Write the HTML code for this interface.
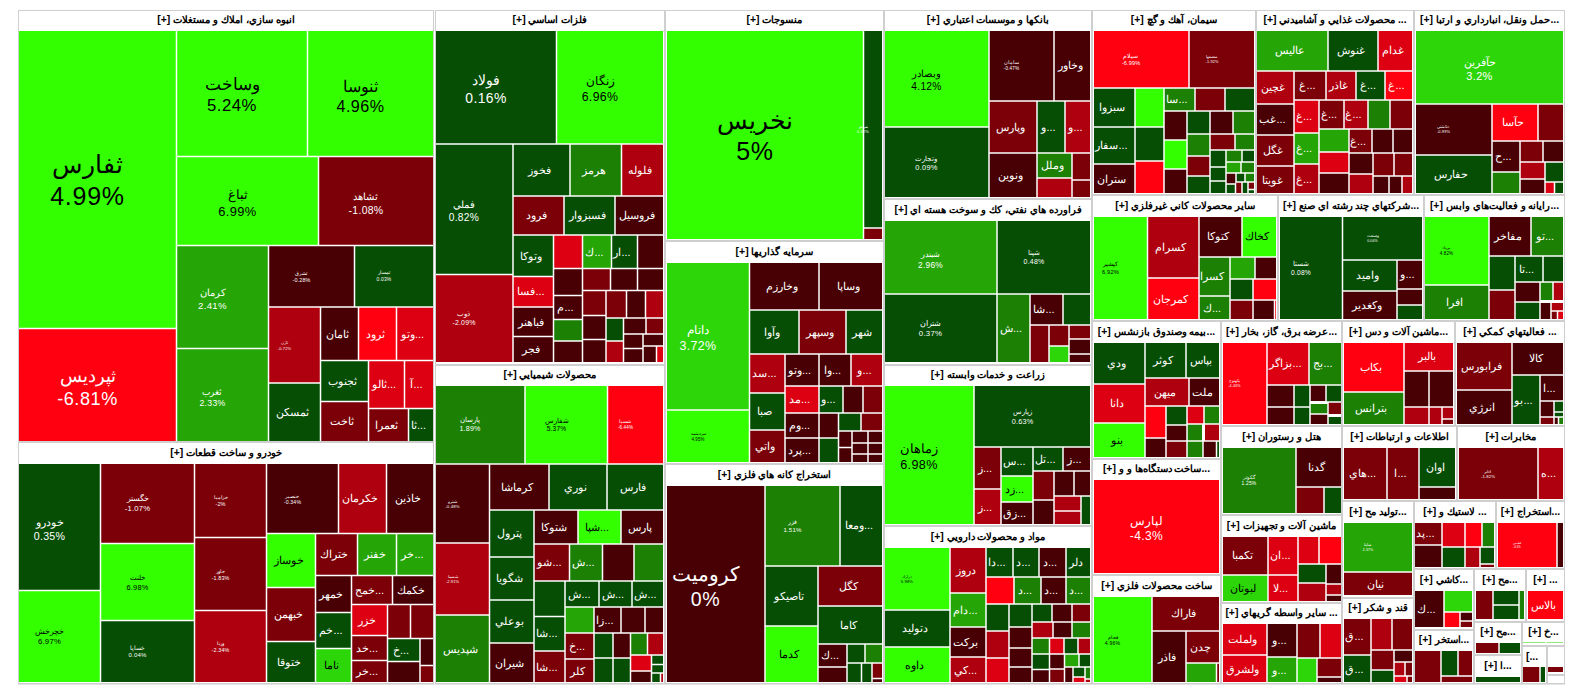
<!DOCTYPE html>
<html><head><meta charset="utf-8"><title>map</title>
<style>
html,body{margin:0;padding:0;background:#fff;}
body{width:1584px;height:698px;position:relative;overflow:hidden;font-family:"Liberation Sans",sans-serif;}
.s{position:absolute;box-sizing:border-box;border:1px solid #cfcfcf;background:#fff;}
.h{position:absolute;overflow:hidden;white-space:nowrap;text-align:center;font-weight:bold;font-size:10.4px;color:#000;direction:rtl;}
.c{position:absolute;overflow:hidden;display:flex;align-items:center;justify-content:center;text-align:center;color:#fff;white-space:nowrap;direction:ltr;}
.c.k{color:#000;}
.c.v{overflow:visible;}
.c span{display:block;}
</style></head><body>

<div class="s" style="left:18px;top:10px;width:416px;height:432px"></div>
<div class="h" style="left:19px;top:11px;width:414px;height:20px;line-height:18px">انبوه سازي، املاك و مستغلات [+]</div>
<div class="s" style="left:18px;top:442px;width:416px;height:242px"></div>
<div class="h" style="left:19px;top:443px;width:414px;height:21px;line-height:19px">خودرو و ساخت قطعات [+]</div>
<div class="s" style="left:435px;top:10px;width:230px;height:355px"></div>
<div class="h" style="left:436px;top:11px;width:228px;height:20px;line-height:18px">فلزات اساسي [+]</div>
<div class="s" style="left:435px;top:365px;width:230px;height:319px"></div>
<div class="h" style="left:436px;top:366px;width:228px;height:20px;line-height:18px">محصولات شيميايي [+]</div>
<div class="s" style="left:665px;top:10px;width:219px;height:231px"></div>
<div class="h" style="left:666px;top:11px;width:217px;height:20px;line-height:18px">منسوجات [+]</div>
<div class="s" style="left:665px;top:241px;width:219px;height:223px"></div>
<div class="h" style="left:666px;top:242px;width:217px;height:21px;line-height:19px">سرمايه گذاريها [+]</div>
<div class="s" style="left:665px;top:464px;width:219px;height:220px"></div>
<div class="h" style="left:666px;top:465px;width:217px;height:21px;line-height:19px">استخراج كانه هاي فلزي [+]</div>
<div class="s" style="left:884px;top:10px;width:208px;height:189px"></div>
<div class="h" style="left:885px;top:11px;width:206px;height:20px;line-height:18px">بانكها و موسسات اعتباري [+]</div>
<div class="s" style="left:884px;top:199px;width:208px;height:166px"></div>
<div class="h" style="left:885px;top:200px;width:206px;height:21px;line-height:19px">فراورده هاي نفتي، كك و سوخت هسته اي [+]</div>
<div class="s" style="left:884px;top:365px;width:208px;height:161px"></div>
<div class="h" style="left:885px;top:366px;width:206px;height:20px;line-height:18px">زراعت و خدمات وابسته [+]</div>
<div class="s" style="left:884px;top:526px;width:208px;height:158px"></div>
<div class="h" style="left:885px;top:527px;width:206px;height:21px;line-height:19px">مواد و محصولات دارويي [+]</div>
<div class="s" style="left:1092px;top:10px;width:164px;height:185px"></div>
<div class="h" style="left:1093px;top:11px;width:162px;height:20px;line-height:18px">سيمان، آهك و گچ [+]</div>
<div class="s" style="left:1256px;top:10px;width:158px;height:185px"></div>
<div class="h" style="left:1257px;top:11px;width:156px;height:20px;line-height:18px">... محصولات غذايي و آشاميدني [+]</div>
<div class="s" style="left:1414px;top:10px;width:151px;height:185px"></div>
<div class="h" style="left:1415px;top:11px;width:149px;height:20px;line-height:18px">...حمل ونقل، انبارداري و ارتبا [+]</div>
<div class="s" style="left:1092px;top:195px;width:186px;height:126px"></div>
<div class="h" style="left:1093px;top:196px;width:184px;height:21px;line-height:19px">ساير محصولات كاني غيرفلزي [+]</div>
<div class="s" style="left:1278px;top:195px;width:146px;height:126px"></div>
<div class="h" style="left:1279px;top:196px;width:144px;height:21px;line-height:19px">...شركتهاي چند رشته اي صنع [+]</div>
<div class="s" style="left:1424px;top:195px;width:141px;height:126px"></div>
<div class="h" style="left:1425px;top:196px;width:139px;height:21px;line-height:19px">...رايانه و فعاليت‌هاي وابس [+]</div>
<div class="s" style="left:1092px;top:321px;width:129px;height:138px"></div>
<div class="h" style="left:1093px;top:322px;width:127px;height:21px;line-height:19px">...بيمه وصندوق بازنشس [+]</div>
<div class="s" style="left:1221px;top:321px;width:121px;height:105px"></div>
<div class="h" style="left:1222px;top:322px;width:119px;height:21px;line-height:19px">...عرضه برق، گاز، بخار [+]</div>
<div class="s" style="left:1342px;top:321px;width:113px;height:105px"></div>
<div class="h" style="left:1343px;top:322px;width:111px;height:21px;line-height:19px">...ماشين آلات و دس [+]</div>
<div class="s" style="left:1455px;top:321px;width:110px;height:105px"></div>
<div class="h" style="left:1456px;top:322px;width:108px;height:21px;line-height:19px">... فعاليتهاي كمكي [+]</div>
<div class="s" style="left:1221px;top:426px;width:121px;height:89px"></div>
<div class="h" style="left:1222px;top:427px;width:119px;height:21px;line-height:19px">هتل و رستوران [+]</div>
<div class="s" style="left:1342px;top:426px;width:115px;height:75px"></div>
<div class="h" style="left:1343px;top:427px;width:113px;height:21px;line-height:19px">اطلاعات و ارتباطات [+]</div>
<div class="s" style="left:1457px;top:426px;width:108px;height:75px"></div>
<div class="h" style="left:1458px;top:427px;width:106px;height:21px;line-height:19px">مخابرات [+]</div>
<div class="s" style="left:1092px;top:459px;width:129px;height:116px"></div>
<div class="h" style="left:1093px;top:460px;width:127px;height:20px;line-height:18px">...ساخت دستگاه‌ها و و [+]</div>
<div class="s" style="left:1092px;top:575px;width:129px;height:109px"></div>
<div class="h" style="left:1093px;top:576px;width:127px;height:21px;line-height:19px">ساخت محصولات فلزي [+]</div>
<div class="s" style="left:1221px;top:515px;width:121px;height:88px"></div>
<div class="h" style="left:1222px;top:516px;width:119px;height:21px;line-height:19px">ماشين آلات و تجهيزات [+]</div>
<div class="s" style="left:1221px;top:603px;width:121px;height:81px"></div>
<div class="h" style="left:1222px;top:604px;width:119px;height:20px;line-height:18px">... ساير واسطه گريهاي [+]</div>
<div class="s" style="left:1342px;top:501px;width:72px;height:97px"></div>
<div class="h" style="left:1343px;top:502px;width:70px;height:21px;line-height:19px">...توليد مح [+]</div>
<div class="s" style="left:1414px;top:501px;width:82px;height:68px"></div>
<div class="h" style="left:1415px;top:502px;width:80px;height:21px;line-height:19px">... لاستيك و [+]</div>
<div class="s" style="left:1496px;top:501px;width:69px;height:68px"></div>
<div class="h" style="left:1497px;top:502px;width:67px;height:21px;line-height:19px">...استخراج [+]</div>
<div class="s" style="left:1342px;top:598px;width:72px;height:86px"></div>
<div class="h" style="left:1343px;top:599px;width:70px;height:20px;line-height:18px">قند و شكر [+]</div>
<div class="s" style="left:1414px;top:569px;width:60px;height:61px"></div>
<div class="h" style="left:1415px;top:570px;width:58px;height:21px;line-height:19px">...كاشي [+]</div>
<div class="s" style="left:1414px;top:630px;width:60px;height:54px"></div>
<div class="h" style="left:1415px;top:631px;width:58px;height:20px;line-height:18px">...استخر [+]</div>
<div class="s" style="left:1474px;top:569px;width:52px;height:53px"></div>
<div class="h" style="left:1475px;top:570px;width:50px;height:21px;line-height:19px">...مح [+]</div>
<div class="s" style="left:1526px;top:569px;width:39px;height:53px"></div>
<div class="h" style="left:1527px;top:570px;width:37px;height:21px;line-height:19px">... [+]</div>
<div class="s" style="left:1474px;top:622px;width:48px;height:33px"></div>
<div class="h" style="left:1475px;top:623px;width:46px;height:20px;line-height:18px">...مح [+]</div>
<div class="s" style="left:1522px;top:622px;width:43px;height:24px"></div>
<div class="h" style="left:1523px;top:623px;width:41px;height:19px;line-height:17px">...خ [+]</div>
<div class="s" style="left:1474px;top:655px;width:48px;height:29px"></div>
<div class="h" style="left:1475px;top:656px;width:46px;height:21px;line-height:19px">...ا [+]</div>
<div class="s" style="left:1522px;top:646px;width:25px;height:38px"></div>
<div class="h" style="left:1523px;top:647px;width:23px;height:20px;line-height:20px;direction:ltr;text-align:left;padding-left:3px;box-sizing:border-box">[...</div>
<div class="s" style="left:1547px;top:646px;width:18px;height:29px"></div>
<div class="s" style="left:1547px;top:675px;width:18px;height:9px"></div>
<svg width="1584" height="698" viewBox="0 0 1584 698" style="position:absolute;left:0;top:0"><rect x="19" y="31" width="156.75" height="296.75" fill="#33FF00"/>
<rect x="19" y="329.25" width="156.75" height="111.75" fill="#FF0010"/>
<rect x="177.25" y="31" width="129.5" height="124.75" fill="#33FF00"/>
<rect x="308.25" y="31" width="124.75" height="124.75" fill="#33FF00"/>
<rect x="177.25" y="157.25" width="140.5" height="87.5" fill="#33FF00"/>
<rect x="319.25" y="157.25" width="113.75" height="87.5" fill="#7C0008"/>
<rect x="177.25" y="246.25" width="90.5" height="101.5" fill="#26A606"/>
<rect x="177.25" y="349.25" width="90.5" height="91.75" fill="#26A606"/>
<rect x="269.25" y="246.25" width="84.5" height="60" fill="#480004"/>
<rect x="355.25" y="246.25" width="77.75" height="60" fill="#064E04"/>
<rect x="269.25" y="307.75" width="50.5" height="74.5" fill="#AE000E"/>
<rect x="269.25" y="383.75" width="50.5" height="57.25" fill="#064E04"/>
<rect x="321.25" y="307.75" width="36.5" height="52" fill="#480004"/>
<rect x="359.25" y="307.75" width="36.5" height="52" fill="#FF0010"/>
<rect x="397.25" y="307.75" width="35.75" height="52" fill="#DC0012"/>
<rect x="321.25" y="361.25" width="46.5" height="39.5" fill="#064E04"/>
<rect x="369.25" y="361.25" width="34.5" height="46.5" fill="#DC0012"/>
<rect x="405.25" y="361.25" width="27.75" height="46.5" fill="#DC0012"/>
<rect x="321.25" y="402.25" width="46.5" height="38.75" fill="#7C0008"/>
<rect x="369.25" y="409.25" width="38.5" height="31.75" fill="#7C0008"/>
<rect x="409.25" y="409.25" width="23.75" height="31.75" fill="#064E04"/>
<rect x="19" y="464" width="80.75" height="125.75" fill="#064E04"/>
<rect x="19" y="591.25" width="80.75" height="90.75" fill="#33FF00"/>
<rect x="101.25" y="464" width="92.5" height="78.75" fill="#7C0008"/>
<rect x="101.25" y="544.25" width="92.5" height="75.5" fill="#33FF00"/>
<rect x="101.25" y="621.25" width="92.5" height="60.75" fill="#064E04"/>
<rect x="195.25" y="464" width="70.5" height="72.75" fill="#7C0008"/>
<rect x="195.25" y="538.25" width="70.5" height="71.5" fill="#7C0008"/>
<rect x="195.25" y="611.25" width="70.5" height="70.75" fill="#AE000E"/>
<rect x="267.25" y="464" width="70.5" height="68.75" fill="#480004"/>
<rect x="339.25" y="464" width="46.5" height="68.75" fill="#AE000E"/>
<rect x="387.25" y="464" width="45.75" height="68.75" fill="#480004"/>
<rect x="267.25" y="534.25" width="47.5" height="52.5" fill="#33FF00"/>
<rect x="267.25" y="588.25" width="47.5" height="52.5" fill="#7C0008"/>
<rect x="267.25" y="642.25" width="47.5" height="39.75" fill="#064E04"/>
<rect x="316.25" y="534.25" width="40.5" height="40.5" fill="#7C0008"/>
<rect x="358.25" y="534.25" width="37.5" height="40.5" fill="#26A606"/>
<rect x="397.25" y="534.25" width="35.75" height="40.5" fill="#26A606"/>
<rect x="316.25" y="576.25" width="34.5" height="35.5" fill="#480004"/>
<rect x="316.25" y="613.25" width="34.5" height="34.5" fill="#064E04"/>
<rect x="316.25" y="649.25" width="34.5" height="32.75" fill="#2DD608"/>
<rect x="352.25" y="576.25" width="39.5" height="27.5" fill="#7C0008"/>
<rect x="393.25" y="576.25" width="39.75" height="27.5" fill="#480004"/>
<rect x="352.25" y="605.25" width="34.5" height="29.5" fill="#DC0012"/>
<rect x="388.25" y="605.25" width="21.5" height="32.5" fill="#7C0008"/>
<rect x="411.25" y="605.25" width="21.75" height="32.5" fill="#7C0008"/>
<rect x="352.25" y="636.25" width="34.5" height="23.5" fill="#7C0008"/>
<rect x="352.25" y="661.25" width="34.5" height="20.75" fill="#7C0008"/>
<rect x="388.25" y="639.25" width="31" height="21.5" fill="#064E04"/>
<rect x="388.25" y="662.25" width="31" height="19.75" fill="#480004"/>
<rect x="420.75" y="639.25" width="12.25" height="25.5" fill="#480004"/>
<rect x="420.75" y="666.25" width="12.25" height="15.75" fill="#7C0008"/>
<rect x="436" y="31" width="119.75" height="112.25" fill="#064E04"/>
<rect x="557.25" y="31" width="105.75" height="112.25" fill="#33FF00"/>
<rect x="436" y="144.75" width="76.25" height="129" fill="#064E04"/>
<rect x="436" y="275.25" width="76.25" height="86.75" fill="#AE000E"/>
<rect x="513.75" y="144.75" width="55.5" height="50.5" fill="#064E04"/>
<rect x="570.75" y="144.75" width="50" height="50.5" fill="#1C8004"/>
<rect x="622.25" y="144.75" width="40.75" height="50.5" fill="#AE000E"/>
<rect x="513.75" y="196.75" width="49.5" height="37.5" fill="#7C0008"/>
<rect x="564.75" y="196.75" width="49.5" height="37.5" fill="#064E04"/>
<rect x="615.75" y="196.75" width="47.25" height="37.5" fill="#480004"/>
<rect x="513.75" y="235.75" width="39" height="40" fill="#064E04"/>
<rect x="513.75" y="277.25" width="39" height="29" fill="#DC0012"/>
<rect x="513.75" y="307.75" width="39" height="28" fill="#480004"/>
<rect x="513.75" y="337.25" width="39" height="24.75" fill="#480004"/>
<rect x="554.25" y="235.75" width="27.5" height="32" fill="#DC0012"/>
<rect x="554.25" y="269.25" width="27.5" height="25.5" fill="#480004"/>
<rect x="554.25" y="296.25" width="27.5" height="22.5" fill="#480004"/>
<rect x="554.25" y="320.25" width="27.5" height="20" fill="#1C8004"/>
<rect x="554.25" y="341.75" width="27.5" height="20.25" fill="#480004"/>
<rect x="583.25" y="235.75" width="27.5" height="32" fill="#26A606"/>
<rect x="612.25" y="235.75" width="24.5" height="32" fill="#064E04"/>
<rect x="638.25" y="235.75" width="24.75" height="32" fill="#480004"/>
<rect x="583.25" y="269.25" width="26.5" height="20.5" fill="#7C0008"/>
<rect x="611.25" y="269.25" width="25.5" height="20.5" fill="#480004"/>
<rect x="638.25" y="269.25" width="24.75" height="20.5" fill="#480004"/>
<rect x="583.25" y="291.25" width="22" height="23.5" fill="#7C0008"/>
<rect x="606.75" y="291.25" width="19" height="26" fill="#7C0008"/>
<rect x="627.25" y="291.25" width="17.5" height="26" fill="#480004"/>
<rect x="646.25" y="291.25" width="16.75" height="26" fill="#AE000E"/>
<rect x="583.25" y="316.25" width="22" height="22.5" fill="#480004"/>
<rect x="583.25" y="340.25" width="22" height="21.75" fill="#480004"/>
<rect x="606.75" y="318.75" width="16" height="21.5" fill="#064E04"/>
<rect x="606.75" y="341.75" width="16" height="20.25" fill="#AE000E"/>
<rect x="624.25" y="318.75" width="21" height="14.5" fill="#480004"/>
<rect x="646.75" y="318.75" width="16.25" height="14.5" fill="#7C0008"/>
<rect x="624.25" y="334.75" width="18" height="13" fill="#480004"/>
<rect x="643.75" y="334.75" width="19.25" height="10.5" fill="#480004"/>
<rect x="624.25" y="349.25" width="18" height="12.75" fill="#480004"/>
<rect x="643.75" y="346.75" width="12" height="15.25" fill="#480004"/>
<rect x="657.25" y="346.75" width="5.75" height="15.25" fill="#DC0012"/>
<rect x="436" y="386" width="88.25" height="77.25" fill="#1C8004"/>
<rect x="525.75" y="386" width="81" height="77.25" fill="#33FF00"/>
<rect x="608.25" y="386" width="54.75" height="77.25" fill="#FF0010"/>
<rect x="436" y="464.75" width="52.75" height="77.5" fill="#480004"/>
<rect x="436" y="543.75" width="52.75" height="70.5" fill="#AE000E"/>
<rect x="436" y="615.75" width="52.75" height="66.25" fill="#1C8004"/>
<rect x="490.25" y="464.75" width="58" height="44.5" fill="#480004"/>
<rect x="549.75" y="464.75" width="56.5" height="44.5" fill="#064E04"/>
<rect x="607.75" y="464.75" width="55.25" height="44.5" fill="#064E04"/>
<rect x="490.25" y="510.75" width="43" height="45.5" fill="#064E04"/>
<rect x="490.25" y="557.75" width="43" height="41.5" fill="#064E04"/>
<rect x="490.25" y="600.75" width="43" height="41.5" fill="#064E04"/>
<rect x="490.25" y="643.75" width="43" height="38.25" fill="#480004"/>
<rect x="534.75" y="510.75" width="42.5" height="32.5" fill="#480004"/>
<rect x="578.75" y="510.75" width="41.5" height="32.5" fill="#33FF00"/>
<rect x="621.75" y="510.75" width="41.25" height="32.5" fill="#480004"/>
<rect x="534.75" y="544.75" width="34" height="35.5" fill="#7C0008"/>
<rect x="570.25" y="544.75" width="31.5" height="35.5" fill="#1C8004"/>
<rect x="603.25" y="544.75" width="30" height="35.5" fill="#480004"/>
<rect x="634.75" y="544.75" width="28.25" height="35.5" fill="#1C8004"/>
<rect x="534.75" y="581.75" width="29.5" height="34" fill="#064E04"/>
<rect x="565.75" y="581.75" width="32.5" height="24.5" fill="#064E04"/>
<rect x="599.75" y="581.75" width="31.5" height="24.5" fill="#064E04"/>
<rect x="632.75" y="581.75" width="30.25" height="24.5" fill="#064E04"/>
<rect x="534.75" y="617.25" width="29.5" height="33" fill="#064E04"/>
<rect x="534.75" y="651.75" width="29.5" height="30.25" fill="#7C0008"/>
<rect x="565.75" y="607.75" width="27.5" height="24.5" fill="#26A606"/>
<rect x="594.75" y="607.75" width="25.5" height="24.5" fill="#480004"/>
<rect x="621.75" y="607.75" width="22.5" height="24.5" fill="#480004"/>
<rect x="645.75" y="607.75" width="17.25" height="24.5" fill="#480004"/>
<rect x="565.75" y="633.75" width="27.5" height="24.5" fill="#7C0008"/>
<rect x="565.75" y="659.75" width="27.5" height="22.25" fill="#7C0008"/>
<rect x="594.75" y="633.75" width="17.5" height="23.5" fill="#064E04"/>
<rect x="613.75" y="633.75" width="16" height="23.5" fill="#480004"/>
<rect x="631.25" y="633.75" width="15.5" height="20.5" fill="#1C8004"/>
<rect x="648.25" y="633.75" width="14.75" height="20.5" fill="#AE000E"/>
<rect x="594.75" y="658.75" width="17.5" height="23.25" fill="#064E04"/>
<rect x="613.75" y="658.75" width="16" height="23.25" fill="#064E04"/>
<rect x="631.25" y="655.75" width="19.5" height="14.5" fill="#DC0012"/>
<rect x="631.25" y="671.75" width="19.5" height="10.25" fill="#480004"/>
<rect x="652.25" y="655.75" width="10.75" height="8" fill="#064E04"/>
<rect x="652.25" y="665.25" width="10.75" height="7" fill="#064E04"/>
<rect x="652.25" y="673.75" width="7.5" height="8.25" fill="#064E04"/>
<rect x="661.25" y="673.75" width="1.75" height="8.25" fill="#AE000E"/>
<rect x="667" y="31" width="195.75" height="208" fill="#33FF00"/>
<rect x="864.25" y="31" width="17.75" height="196.25" fill="#064E04"/>
<rect x="864.25" y="228.75" width="17.75" height="10.25" fill="#7C0008"/>
<rect x="667" y="263" width="81.75" height="146.25" fill="#2DD608"/>
<rect x="667" y="410.75" width="81.75" height="51.25" fill="#33FF00"/>
<rect x="750.25" y="263" width="68" height="46.25" fill="#480004"/>
<rect x="819.75" y="263" width="62.25" height="46.25" fill="#480004"/>
<rect x="750.25" y="310.75" width="48" height="42.5" fill="#064E04"/>
<rect x="799.75" y="310.75" width="45.5" height="42.5" fill="#7C0008"/>
<rect x="846.75" y="310.75" width="35.25" height="42.5" fill="#064E04"/>
<rect x="750.25" y="354.75" width="34" height="37.5" fill="#AE000E"/>
<rect x="750.25" y="393.75" width="34" height="35.5" fill="#064E04"/>
<rect x="750.25" y="430.75" width="34" height="31.25" fill="#7C0008"/>
<rect x="785.75" y="354.75" width="32.5" height="30.5" fill="#480004"/>
<rect x="819.75" y="354.75" width="30.5" height="30.5" fill="#480004"/>
<rect x="851.75" y="354.75" width="30.25" height="30.5" fill="#AE000E"/>
<rect x="785.75" y="386.75" width="32.5" height="25.5" fill="#DC0012"/>
<rect x="819.75" y="386.75" width="22.5" height="25.5" fill="#064E04"/>
<rect x="843.75" y="386.75" width="18.5" height="25.5" fill="#480004"/>
<rect x="863.75" y="386.75" width="18.25" height="25.5" fill="#7C0008"/>
<rect x="785.75" y="413.75" width="32.5" height="23.5" fill="#480004"/>
<rect x="785.75" y="438.75" width="32.5" height="23.25" fill="#480004"/>
<rect x="819.75" y="413.75" width="18" height="23.5" fill="#480004"/>
<rect x="819.75" y="438.75" width="18" height="23.25" fill="#064E04"/>
<rect x="839.25" y="413.75" width="21" height="16.5" fill="#064E04"/>
<rect x="861.75" y="413.75" width="20.25" height="16.5" fill="#7C0008"/>
<rect x="839.25" y="431.75" width="12" height="15" fill="#480004"/>
<rect x="839.25" y="448.25" width="12" height="13.75" fill="#480004"/>
<rect x="852.75" y="431.75" width="14.5" height="10.5" fill="#480004"/>
<rect x="868.75" y="431.75" width="13.25" height="10.5" fill="#480004"/>
<rect x="852.75" y="443.75" width="14.5" height="9.5" fill="#480004"/>
<rect x="868.75" y="443.75" width="13.25" height="9.5" fill="#480004"/>
<rect x="852.75" y="454.75" width="14.5" height="7.25" fill="#480004"/>
<rect x="868.75" y="454.75" width="13.25" height="7.25" fill="#480004"/>
<rect x="667" y="486" width="97.25" height="196" fill="#480004"/>
<rect x="765.75" y="486" width="73.5" height="79.25" fill="#1C8004"/>
<rect x="840.75" y="486" width="41.25" height="79.25" fill="#064E04"/>
<rect x="765.75" y="566.75" width="51.5" height="58.5" fill="#064E04"/>
<rect x="765.75" y="626.75" width="51.5" height="55.25" fill="#33FF00"/>
<rect x="818.75" y="566.75" width="63.25" height="38.5" fill="#7C0008"/>
<rect x="818.75" y="606.75" width="63.25" height="36.5" fill="#064E04"/>
<rect x="818.75" y="644.75" width="27.5" height="21.5" fill="#480004"/>
<rect x="818.75" y="667.75" width="27.5" height="14.25" fill="#480004"/>
<rect x="847.75" y="644.75" width="16.5" height="17.5" fill="#064E04"/>
<rect x="865.75" y="644.75" width="16.25" height="17.5" fill="#1C8004"/>
<rect x="847.75" y="663.75" width="13" height="18.25" fill="#064E04"/>
<rect x="862.25" y="663.75" width="9" height="18.25" fill="#064E04"/>
<rect x="872.75" y="663.75" width="9.25" height="14" fill="#7C0008"/>
<rect x="872.75" y="679.25" width="9.25" height="2.75" fill="#480004"/>
<rect x="885" y="31" width="103.25" height="95.25" fill="#33FF00"/>
<rect x="885" y="127.75" width="103.25" height="69.25" fill="#064E04"/>
<rect x="989.75" y="31" width="63.5" height="69.25" fill="#480004"/>
<rect x="1054.75" y="31" width="35.25" height="69.25" fill="#480004"/>
<rect x="989.75" y="101.75" width="46.5" height="50.5" fill="#7C0008"/>
<rect x="989.75" y="153.75" width="46.5" height="43.25" fill="#480004"/>
<rect x="1037.75" y="101.75" width="26.5" height="50.5" fill="#064E04"/>
<rect x="1065.75" y="101.75" width="24.25" height="50.5" fill="#AE000E"/>
<rect x="1037.75" y="153.75" width="33.5" height="23.5" fill="#1C8004"/>
<rect x="1037.75" y="178.75" width="33.5" height="18.25" fill="#AE000E"/>
<rect x="1072.75" y="153.75" width="17.25" height="25.5" fill="#7C0008"/>
<rect x="1072.75" y="180.75" width="17.25" height="16.25" fill="#7C0008"/>
<rect x="885" y="221" width="111.25" height="72.25" fill="#26A606"/>
<rect x="997.75" y="221" width="92.25" height="72.25" fill="#064E04"/>
<rect x="885" y="294.75" width="111.25" height="67.25" fill="#064E04"/>
<rect x="997.75" y="294.75" width="31.5" height="67.25" fill="#1C8004"/>
<rect x="1030.75" y="294.75" width="31.5" height="29.5" fill="#480004"/>
<rect x="1063.75" y="294.75" width="26.25" height="29.5" fill="#064E04"/>
<rect x="1030.75" y="325.75" width="17.5" height="36.25" fill="#7C0008"/>
<rect x="1049.75" y="325.75" width="18.5" height="19.5" fill="#7C0008"/>
<rect x="1049.75" y="346.75" width="18.5" height="15.25" fill="#2DD608"/>
<rect x="1069.75" y="325.75" width="20.25" height="12.5" fill="#7C0008"/>
<rect x="1069.75" y="339.75" width="20.25" height="13.5" fill="#480004"/>
<rect x="1069.75" y="354.75" width="20.25" height="7.25" fill="#480004"/>
<rect x="885" y="386" width="88.25" height="138" fill="#33FF00"/>
<rect x="974.75" y="386" width="115.25" height="60.25" fill="#064E04"/>
<rect x="974.75" y="447.75" width="25.5" height="40.5" fill="#7C0008"/>
<rect x="974.75" y="489.75" width="25.5" height="34.25" fill="#AE000E"/>
<rect x="1001.75" y="447.75" width="30.5" height="27.5" fill="#064E04"/>
<rect x="1001.75" y="476.75" width="30.5" height="24.5" fill="#33FF00"/>
<rect x="1001.75" y="502.75" width="30.5" height="21.25" fill="#480004"/>
<rect x="1033.75" y="447.75" width="28.5" height="22.5" fill="#064E04"/>
<rect x="1063.75" y="447.75" width="26.25" height="22.5" fill="#480004"/>
<rect x="1033.75" y="471.75" width="19.5" height="27.5" fill="#7C0008"/>
<rect x="1054.75" y="471.75" width="18.5" height="23.5" fill="#480004"/>
<rect x="1074.75" y="471.75" width="15.25" height="23.5" fill="#480004"/>
<rect x="1033.75" y="500.75" width="19.5" height="23.25" fill="#480004"/>
<rect x="1054.75" y="496.75" width="25.5" height="13.5" fill="#AE000E"/>
<rect x="1054.75" y="511.75" width="25.5" height="12.25" fill="#AE000E"/>
<rect x="1081.75" y="496.75" width="8.25" height="27.25" fill="#064E04"/>
<rect x="885" y="548" width="64.25" height="61.25" fill="#33FF00"/>
<rect x="885" y="610.75" width="64.25" height="35.5" fill="#064E04"/>
<rect x="885" y="647.75" width="64.25" height="34.25" fill="#33FF00"/>
<rect x="950.75" y="548" width="34.5" height="44.25" fill="#AE000E"/>
<rect x="950.75" y="593.75" width="34.5" height="32.5" fill="#26A606"/>
<rect x="950.75" y="627.75" width="34.5" height="28.5" fill="#480004"/>
<rect x="950.75" y="657.75" width="34.5" height="24.25" fill="#AE000E"/>
<rect x="986.75" y="548" width="25.5" height="28.25" fill="#064E04"/>
<rect x="1013.75" y="548" width="24.5" height="28.25" fill="#064E04"/>
<rect x="1039.75" y="548" width="25.5" height="28.25" fill="#480004"/>
<rect x="1066.75" y="548" width="23.25" height="28.25" fill="#064E04"/>
<rect x="986.75" y="577.75" width="26.5" height="25.5" fill="#FF0010"/>
<rect x="1014.75" y="577.75" width="25.5" height="25.5" fill="#1C8004"/>
<rect x="1041.75" y="577.75" width="23.5" height="25.5" fill="#480004"/>
<rect x="1066.75" y="577.75" width="23.25" height="25.5" fill="#1C8004"/>
<rect x="986.75" y="604.75" width="21.5" height="25.5" fill="#064E04"/>
<rect x="1009.75" y="604.75" width="21.5" height="21.5" fill="#064E04"/>
<rect x="1032.75" y="604.75" width="18.5" height="16.5" fill="#064E04"/>
<rect x="1052.75" y="604.75" width="18.5" height="16.5" fill="#480004"/>
<rect x="1072.75" y="604.75" width="17.25" height="16.5" fill="#7C0008"/>
<rect x="986.75" y="631.75" width="21.5" height="25.5" fill="#AE000E"/>
<rect x="986.75" y="658.75" width="21.5" height="23.25" fill="#DC0012"/>
<rect x="1009.75" y="627.75" width="21.5" height="19.5" fill="#480004"/>
<rect x="1009.75" y="648.75" width="21.5" height="17.5" fill="#480004"/>
<rect x="1009.75" y="667.75" width="21.5" height="14.25" fill="#480004"/>
<rect x="1032.75" y="622.75" width="19.5" height="14.5" fill="#AE000E"/>
<rect x="1053.75" y="622.75" width="17.5" height="14.5" fill="#480004"/>
<rect x="1072.75" y="622.75" width="17.25" height="14.5" fill="#1C8004"/>
<rect x="1032.75" y="638.75" width="16" height="14.5" fill="#1C8004"/>
<rect x="1050.25" y="638.75" width="13" height="14.5" fill="#DC0012"/>
<rect x="1064.75" y="638.75" width="12.5" height="14.5" fill="#064E04"/>
<rect x="1078.75" y="638.75" width="11.25" height="14.5" fill="#AE000E"/>
<rect x="1032.75" y="654.75" width="16" height="14" fill="#064E04"/>
<rect x="1050.25" y="654.75" width="13.5" height="13.5" fill="#480004"/>
<rect x="1065.25" y="654.75" width="13" height="11.5" fill="#26A606"/>
<rect x="1079.75" y="654.75" width="10.25" height="11.5" fill="#064E04"/>
<rect x="1032.75" y="670.25" width="16" height="11.75" fill="#480004"/>
<rect x="1050.25" y="669.75" width="13.5" height="12.25" fill="#7C0008"/>
<rect x="1065.25" y="667.75" width="7" height="14.25" fill="#480004"/>
<rect x="1073.75" y="667.75" width="10.5" height="8.5" fill="#064E04"/>
<rect x="1085.75" y="667.75" width="4.25" height="10.5" fill="#1C8004"/>
<rect x="1073.75" y="677.75" width="10.5" height="4.25" fill="#DC0012"/>
<rect x="1085.75" y="679.75" width="4.25" height="2.25" fill="#AE000E"/>
<rect x="1094" y="31" width="94.25" height="56.25" fill="#FF0010"/>
<rect x="1189.75" y="31" width="64.25" height="56.25" fill="#7C0008"/>
<rect x="1094" y="88.75" width="40.25" height="37.5" fill="#064E04"/>
<rect x="1094" y="127.75" width="40.25" height="35.5" fill="#064E04"/>
<rect x="1094" y="164.75" width="40.25" height="28.25" fill="#480004"/>
<rect x="1135.75" y="88.75" width="27.5" height="37.5" fill="#33FF00"/>
<rect x="1135.75" y="127.75" width="27.5" height="32.5" fill="#064E04"/>
<rect x="1135.75" y="161.75" width="27.5" height="31.25" fill="#FF0010"/>
<rect x="1164.75" y="88.75" width="29.5" height="21.5" fill="#1C8004"/>
<rect x="1195.75" y="88.75" width="28.5" height="21.5" fill="#7C0008"/>
<rect x="1225.75" y="88.75" width="28.25" height="21.5" fill="#064E04"/>
<rect x="1164.75" y="111.75" width="21.5" height="27.5" fill="#480004"/>
<rect x="1164.75" y="140.75" width="21.5" height="27.5" fill="#33FF00"/>
<rect x="1164.75" y="169.75" width="21.5" height="23.25" fill="#480004"/>
<rect x="1187.75" y="111.75" width="21.5" height="21.5" fill="#064E04"/>
<rect x="1210.75" y="111.75" width="21.5" height="21.5" fill="#480004"/>
<rect x="1233.75" y="111.75" width="20.25" height="21.5" fill="#1C8004"/>
<rect x="1187.75" y="134.75" width="21.5" height="20.5" fill="#1C8004"/>
<rect x="1187.75" y="156.75" width="21.5" height="18.5" fill="#7C0008"/>
<rect x="1187.75" y="176.75" width="21.5" height="16.25" fill="#064E04"/>
<rect x="1210.75" y="134.75" width="23.5" height="14.5" fill="#7C0008"/>
<rect x="1235.75" y="134.75" width="18.25" height="14.5" fill="#1C8004"/>
<rect x="1210.75" y="150.75" width="14.5" height="15.5" fill="#064E04"/>
<rect x="1210.75" y="167.75" width="14.5" height="12.5" fill="#064E04"/>
<rect x="1210.75" y="181.75" width="14.5" height="11.25" fill="#064E04"/>
<rect x="1226.75" y="150.75" width="14.5" height="10.5" fill="#1C8004"/>
<rect x="1242.75" y="150.75" width="11.25" height="10.5" fill="#064E04"/>
<rect x="1226.75" y="162.75" width="13.5" height="9.5" fill="#26A606"/>
<rect x="1241.75" y="162.75" width="12.25" height="9.5" fill="#1C8004"/>
<rect x="1226.75" y="173.75" width="8.5" height="9.5" fill="#480004"/>
<rect x="1236.75" y="173.75" width="7.5" height="7.5" fill="#064E04"/>
<rect x="1245.75" y="173.75" width="8.25" height="7.5" fill="#1C8004"/>
<rect x="1226.75" y="184.75" width="8" height="8.25" fill="#064E04"/>
<rect x="1236.25" y="182.75" width="5" height="10.25" fill="#7C0008"/>
<rect x="1242.75" y="182.75" width="4.5" height="10.25" fill="#064E04"/>
<rect x="1248.75" y="182.75" width="5.25" height="6" fill="#7C0008"/>
<rect x="1248.75" y="190.25" width="5.25" height="2.75" fill="#064E04"/>
<rect x="1257" y="31" width="70.25" height="39.25" fill="#26A606"/>
<rect x="1328.75" y="31" width="48.5" height="39.25" fill="#064E04"/>
<rect x="1378.75" y="31" width="33.25" height="39.25" fill="#DC0012"/>
<rect x="1257" y="71.75" width="36.25" height="31.5" fill="#AE000E"/>
<rect x="1257" y="104.75" width="36.25" height="29.5" fill="#480004"/>
<rect x="1257" y="135.75" width="36.25" height="29.5" fill="#7C0008"/>
<rect x="1257" y="166.75" width="36.25" height="26.25" fill="#7C0008"/>
<rect x="1294.75" y="71.75" width="30.5" height="27.5" fill="#7C0008"/>
<rect x="1326.75" y="71.75" width="28.5" height="27.5" fill="#AE000E"/>
<rect x="1356.75" y="71.75" width="27.5" height="27.5" fill="#064E04"/>
<rect x="1385.75" y="71.75" width="26.25" height="27.5" fill="#FF0010"/>
<rect x="1294.75" y="100.75" width="23.5" height="31.5" fill="#DC0012"/>
<rect x="1294.75" y="133.75" width="23.5" height="29.5" fill="#26A606"/>
<rect x="1294.75" y="164.75" width="23.5" height="28.25" fill="#AE000E"/>
<rect x="1319.75" y="100.75" width="23.5" height="27.5" fill="#7C0008"/>
<rect x="1344.75" y="100.75" width="22.5" height="27.5" fill="#AE000E"/>
<rect x="1368.75" y="100.75" width="20.5" height="27.5" fill="#1C8004"/>
<rect x="1390.75" y="100.75" width="21.25" height="27.5" fill="#7C0008"/>
<rect x="1319.75" y="129.75" width="28.5" height="21.5" fill="#26A606"/>
<rect x="1349.75" y="129.75" width="21.5" height="22.5" fill="#7C0008"/>
<rect x="1372.75" y="129.75" width="19.5" height="22.5" fill="#480004"/>
<rect x="1393.75" y="129.75" width="18.25" height="22.5" fill="#480004"/>
<rect x="1319.75" y="152.75" width="28.5" height="19.5" fill="#DC0012"/>
<rect x="1319.75" y="173.75" width="28.5" height="19.25" fill="#480004"/>
<rect x="1349.75" y="153.75" width="22.5" height="19.5" fill="#480004"/>
<rect x="1349.75" y="174.75" width="22.5" height="18.25" fill="#AE000E"/>
<rect x="1373.75" y="153.75" width="19.5" height="21.5" fill="#7C0008"/>
<rect x="1394.75" y="153.75" width="17.25" height="21.5" fill="#7C0008"/>
<rect x="1373.75" y="176.75" width="14.5" height="16.25" fill="#480004"/>
<rect x="1389.75" y="176.75" width="11.5" height="16.25" fill="#480004"/>
<rect x="1402.75" y="176.75" width="9.25" height="16.25" fill="#AE000E"/>
<rect x="1416" y="31" width="147" height="72.25" fill="#2DD608"/>
<rect x="1416" y="104.75" width="75.25" height="49.5" fill="#480004"/>
<rect x="1416" y="155.75" width="75.25" height="37.25" fill="#064E04"/>
<rect x="1492.75" y="104.75" width="44.5" height="35.5" fill="#FF0010"/>
<rect x="1538.75" y="104.75" width="24.25" height="35.5" fill="#7C0008"/>
<rect x="1492.75" y="141.75" width="26.5" height="29.5" fill="#480004"/>
<rect x="1492.75" y="172.75" width="26.5" height="20.25" fill="#1C8004"/>
<rect x="1520.75" y="141.75" width="21.5" height="19.5" fill="#7C0008"/>
<rect x="1543.75" y="141.75" width="19.25" height="19.5" fill="#480004"/>
<rect x="1520.75" y="162.75" width="23.5" height="15.5" fill="#AE000E"/>
<rect x="1545.75" y="162.75" width="17.25" height="18.5" fill="#064E04"/>
<rect x="1520.75" y="179.75" width="23.5" height="13.25" fill="#480004"/>
<rect x="1545.75" y="182.75" width="8" height="10.25" fill="#DC0012"/>
<rect x="1555.25" y="182.75" width="7.75" height="10.25" fill="#064E04"/>
<rect x="1094" y="217" width="52.75" height="102" fill="#33FF00"/>
<rect x="1148.25" y="217" width="50" height="60.25" fill="#AE000E"/>
<rect x="1148.25" y="278.75" width="50" height="40.25" fill="#FF0010"/>
<rect x="1199.75" y="217" width="41.5" height="39.25" fill="#480004"/>
<rect x="1242.75" y="217" width="33.25" height="39.25" fill="#33FF00"/>
<rect x="1199.75" y="257.75" width="29.5" height="37.5" fill="#1C8004"/>
<rect x="1199.75" y="296.75" width="29.5" height="22.25" fill="#1C8004"/>
<rect x="1230.75" y="257.75" width="23.5" height="20.5" fill="#26A606"/>
<rect x="1255.75" y="257.75" width="20.25" height="20.5" fill="#480004"/>
<rect x="1230.75" y="279.75" width="21.5" height="19.5" fill="#064E04"/>
<rect x="1253.75" y="279.75" width="22.25" height="19.5" fill="#FF0010"/>
<rect x="1230.75" y="300.75" width="21.5" height="18.25" fill="#7C0008"/>
<rect x="1253.75" y="300.75" width="20" height="18.25" fill="#480004"/>
<rect x="1275.25" y="300.75" width="0.75" height="18.25" fill="#FF0010"/>
<rect x="1280" y="217" width="61.75" height="102" fill="#064E04"/>
<rect x="1343.25" y="217" width="78.75" height="42.25" fill="#064E04"/>
<rect x="1343.25" y="260.75" width="53" height="29.5" fill="#064E04"/>
<rect x="1343.25" y="291.75" width="53" height="27.25" fill="#480004"/>
<rect x="1397.75" y="260.75" width="24.25" height="27.5" fill="#480004"/>
<rect x="1397.75" y="289.75" width="24.25" height="14.5" fill="#480004"/>
<rect x="1397.75" y="305.75" width="24.25" height="13.25" fill="#064E04"/>
<rect x="1425" y="217" width="63.25" height="67.25" fill="#33FF00"/>
<rect x="1425" y="285.75" width="63.25" height="33.25" fill="#1C8004"/>
<rect x="1489.75" y="217" width="40.5" height="38.25" fill="#480004"/>
<rect x="1531.75" y="217" width="31.25" height="38.25" fill="#1C8004"/>
<rect x="1489.75" y="256.75" width="24.5" height="32.5" fill="#064E04"/>
<rect x="1489.75" y="290.75" width="24.5" height="28.25" fill="#7C0008"/>
<rect x="1515.75" y="256.75" width="26.5" height="24.5" fill="#064E04"/>
<rect x="1543.75" y="256.75" width="19.25" height="24.5" fill="#064E04"/>
<rect x="1515.75" y="282.75" width="23.5" height="18.5" fill="#480004"/>
<rect x="1515.75" y="302.75" width="23.5" height="16.25" fill="#064E04"/>
<rect x="1540.75" y="282.75" width="11.5" height="17.25" fill="#1C8004"/>
<rect x="1553.75" y="282.75" width="9.25" height="17.25" fill="#AE000E"/>
<rect x="1540.75" y="303" width="9.5" height="16" fill="#480004"/>
<rect x="1551.75" y="303" width="11.25" height="7.25" fill="#AE000E"/>
<rect x="1551.75" y="311.75" width="5" height="7.25" fill="#7C0008"/>
<rect x="1558.25" y="311.75" width="4.75" height="7.25" fill="#DC0012"/>
<rect x="1094" y="343" width="50.25" height="40.25" fill="#064E04"/>
<rect x="1094" y="384.75" width="50.25" height="37.5" fill="#DC0012"/>
<rect x="1094" y="423.75" width="50.25" height="33.25" fill="#33FF00"/>
<rect x="1145.75" y="343" width="39.5" height="34.25" fill="#064E04"/>
<rect x="1186.75" y="343" width="32.25" height="34.25" fill="#064E04"/>
<rect x="1145.75" y="378.75" width="42.5" height="26.5" fill="#AE000E"/>
<rect x="1189.75" y="378.75" width="29.25" height="26.5" fill="#480004"/>
<rect x="1145.75" y="406.75" width="19.5" height="30.5" fill="#FF0010"/>
<rect x="1145.75" y="438.75" width="19.5" height="18.25" fill="#480004"/>
<rect x="1166.75" y="406.75" width="19.5" height="17.5" fill="#064E04"/>
<rect x="1166.75" y="425.75" width="19.5" height="14.5" fill="#480004"/>
<rect x="1166.75" y="441.75" width="19.5" height="15.25" fill="#7C0008"/>
<rect x="1187.75" y="406.75" width="15.5" height="16.5" fill="#DC0012"/>
<rect x="1204.75" y="406.75" width="14.25" height="16.5" fill="#1C8004"/>
<rect x="1187.75" y="424.75" width="14.25" height="15.5" fill="#1C8004"/>
<rect x="1205" y="424.75" width="14" height="15.5" fill="#AE000E"/>
<rect x="1187.75" y="441.75" width="14.5" height="15.25" fill="#1C8004"/>
<rect x="1203.75" y="441.75" width="12" height="15.25" fill="#480004"/>
<rect x="1217.25" y="441.75" width="1.75" height="15.25" fill="#064E04"/>
<rect x="1223" y="343" width="43.25" height="81" fill="#FF0010"/>
<rect x="1267.75" y="343" width="40.5" height="41.25" fill="#DC0012"/>
<rect x="1309.75" y="343" width="31.25" height="41.25" fill="#1C8004"/>
<rect x="1267.75" y="385.75" width="25.5" height="20.5" fill="#480004"/>
<rect x="1267.75" y="407.75" width="25.5" height="16.25" fill="#480004"/>
<rect x="1294.75" y="385.75" width="14.5" height="20.5" fill="#064E04"/>
<rect x="1294.75" y="407.75" width="14.5" height="16.25" fill="#064E04"/>
<rect x="1310.75" y="385.75" width="14.5" height="15.25" fill="#480004"/>
<rect x="1326.75" y="385.75" width="14.25" height="15.5" fill="#064E04"/>
<rect x="1310.75" y="404" width="16.5" height="9.25" fill="#1C8004"/>
<rect x="1328.75" y="402.75" width="12.25" height="11.25" fill="#7C0008"/>
<rect x="1310.75" y="414.75" width="16.5" height="9.25" fill="#480004"/>
<rect x="1328.75" y="417" width="12.25" height="7" fill="#064E04"/>
<rect x="1344" y="343" width="59.25" height="48.25" fill="#FF0010"/>
<rect x="1344" y="392.75" width="59.25" height="31.25" fill="#1C8004"/>
<rect x="1404.75" y="343" width="48.25" height="27.25" fill="#DC0012"/>
<rect x="1404.75" y="371.75" width="23.5" height="34.5" fill="#480004"/>
<rect x="1429.75" y="371.75" width="23.25" height="34.5" fill="#480004"/>
<rect x="1404.75" y="407.75" width="23.5" height="16.25" fill="#AE000E"/>
<rect x="1429.75" y="407.75" width="11.5" height="16.25" fill="#AE000E"/>
<rect x="1442.75" y="407.75" width="10.25" height="10.5" fill="#AE000E"/>
<rect x="1442.75" y="419.75" width="10.25" height="4.25" fill="#7C0008"/>
<rect x="1457" y="343" width="54.25" height="46.25" fill="#7C0008"/>
<rect x="1457" y="390.75" width="54.25" height="33.25" fill="#480004"/>
<rect x="1512.75" y="343" width="50.25" height="31.25" fill="#480004"/>
<rect x="1512.75" y="375.75" width="26.5" height="48.25" fill="#064E04"/>
<rect x="1540.75" y="375.75" width="22.25" height="24.5" fill="#480004"/>
<rect x="1540.75" y="401.75" width="12.5" height="14.5" fill="#480004"/>
<rect x="1554.75" y="401.75" width="8.25" height="9.5" fill="#064E04"/>
<rect x="1554.75" y="412.75" width="8.25" height="3.5" fill="#064E04"/>
<rect x="1540.75" y="417.75" width="12.5" height="6.25" fill="#7C0008"/>
<rect x="1554.75" y="417.75" width="3" height="6.25" fill="#480004"/>
<rect x="1559.25" y="417.75" width="3.75" height="6.25" fill="#1C8004"/>
<rect x="1223" y="448" width="72.25" height="65" fill="#1C8004"/>
<rect x="1296.75" y="448" width="44.25" height="38.25" fill="#480004"/>
<rect x="1296.75" y="487.75" width="26.5" height="25.25" fill="#7C0008"/>
<rect x="1324.75" y="487.75" width="16.25" height="25.25" fill="#064E04"/>
<rect x="1344" y="448" width="42.25" height="51" fill="#7C0008"/>
<rect x="1387.75" y="448" width="30.5" height="51" fill="#7C0008"/>
<rect x="1419.75" y="448" width="35.25" height="38.25" fill="#064E04"/>
<rect x="1419.75" y="487.75" width="35.25" height="11.25" fill="#480004"/>
<rect x="1459" y="448" width="78.25" height="51" fill="#7C0008"/>
<rect x="1538.75" y="448" width="24.25" height="51" fill="#AE000E"/>
<rect x="1094" y="480" width="125" height="93" fill="#FF0010"/>
<rect x="1094" y="597" width="57.25" height="85" fill="#33FF00"/>
<rect x="1152.75" y="597" width="66.25" height="33.25" fill="#7C0008"/>
<rect x="1152.75" y="631.75" width="32.5" height="50.25" fill="#480004"/>
<rect x="1186.75" y="631.75" width="32.25" height="30.5" fill="#7C0008"/>
<rect x="1186.75" y="663.75" width="29" height="18.25" fill="#26A606"/>
<rect x="1217.25" y="663.75" width="1.75" height="18.25" fill="#7C0008"/>
<rect x="1223" y="537" width="44.25" height="37.25" fill="#7C0008"/>
<rect x="1223" y="575.75" width="44.25" height="25.25" fill="#2DD608"/>
<rect x="1268.75" y="537" width="28.5" height="37.25" fill="#DC0012"/>
<rect x="1268.75" y="575.75" width="28.5" height="25.25" fill="#DC0012"/>
<rect x="1298.75" y="537" width="19.5" height="26.25" fill="#DC0012"/>
<rect x="1319.75" y="537" width="21.25" height="26.25" fill="#FF0010"/>
<rect x="1298.75" y="564.75" width="26.5" height="17.5" fill="#064E04"/>
<rect x="1326.75" y="564.75" width="14.25" height="18.5" fill="#480004"/>
<rect x="1298.75" y="583.75" width="26.5" height="17.25" fill="#AE000E"/>
<rect x="1326.75" y="584.75" width="14.25" height="9.5" fill="#AE000E"/>
<rect x="1326.75" y="595.75" width="14.25" height="5.25" fill="#480004"/>
<rect x="1223" y="624" width="43.25" height="30.25" fill="#DC0012"/>
<rect x="1223" y="655.75" width="43.25" height="26.25" fill="#DC0012"/>
<rect x="1267.75" y="624" width="28.5" height="32.25" fill="#480004"/>
<rect x="1267.75" y="657.75" width="28.5" height="24.25" fill="#26A606"/>
<rect x="1297.75" y="624" width="21.5" height="33.25" fill="#7C0008"/>
<rect x="1320.75" y="624" width="20.25" height="33.25" fill="#DC0012"/>
<rect x="1297.75" y="658.75" width="18.5" height="23.25" fill="#2DD608"/>
<rect x="1317.75" y="658.75" width="23.25" height="17.5" fill="#7C0008"/>
<rect x="1317.75" y="677.75" width="23.25" height="4.25" fill="#480004"/>
<rect x="1344" y="523" width="68" height="48.25" fill="#26A606"/>
<rect x="1344" y="572.75" width="68" height="22.25" fill="#7C0008"/>
<rect x="1415" y="523" width="26.25" height="21.25" fill="#7C0008"/>
<rect x="1415" y="545.75" width="26.25" height="21.25" fill="#480004"/>
<rect x="1442.75" y="523" width="21.5" height="23.25" fill="#DC0012"/>
<rect x="1465.75" y="523" width="15.5" height="23.25" fill="#FF0010"/>
<rect x="1482.75" y="523" width="11.25" height="23.25" fill="#1C8004"/>
<rect x="1442.75" y="547.75" width="21.5" height="19.25" fill="#064E04"/>
<rect x="1465.75" y="547.75" width="13.5" height="19.25" fill="#AE000E"/>
<rect x="1480.75" y="547.75" width="13.25" height="15.5" fill="#064E04"/>
<rect x="1480.75" y="564.75" width="13.25" height="2.25" fill="#7C0008"/>
<rect x="1498" y="523" width="58.25" height="44" fill="#FF0010"/>
<rect x="1557.75" y="523" width="5.25" height="44" fill="#480004"/>
<rect x="1344" y="619" width="26.25" height="35.25" fill="#7C0008"/>
<rect x="1344" y="655.75" width="26.25" height="26.25" fill="#064E04"/>
<rect x="1371.75" y="619" width="19.5" height="30.25" fill="#AE000E"/>
<rect x="1392.75" y="619" width="19.25" height="30.25" fill="#7C0008"/>
<rect x="1371.75" y="650.75" width="21.5" height="18.5" fill="#7C0008"/>
<rect x="1371.75" y="670.75" width="21.5" height="11.25" fill="#064E04"/>
<rect x="1394.75" y="650.75" width="17.25" height="10.5" fill="#480004"/>
<rect x="1394.75" y="662.75" width="9.5" height="12.5" fill="#AE000E"/>
<rect x="1405.75" y="662.75" width="6.25" height="12.5" fill="#7C0008"/>
<rect x="1394.75" y="676.75" width="11.5" height="5.25" fill="#DC0012"/>
<rect x="1407.75" y="676.75" width="4.25" height="5.25" fill="#7C0008"/>
<rect x="1415" y="591" width="28.25" height="36" fill="#480004"/>
<rect x="1444.75" y="591" width="27.25" height="20.25" fill="#2DD608"/>
<rect x="1444.75" y="612.75" width="14.5" height="14.25" fill="#FF0010"/>
<rect x="1460.75" y="612.75" width="11.25" height="7.5" fill="#480004"/>
<rect x="1460.75" y="621.75" width="11.25" height="5.25" fill="#7C0008"/>
<rect x="1415" y="651" width="25.25" height="31" fill="#7C0008"/>
<rect x="1441.75" y="651" width="15.5" height="24.25" fill="#064E04"/>
<rect x="1458.75" y="651" width="13.25" height="24.25" fill="#7C0008"/>
<rect x="1441.75" y="676.75" width="30.25" height="5.25" fill="#7C0008"/>
<rect x="1476" y="591" width="16.25" height="28" fill="#7C0008"/>
<rect x="1493.75" y="591" width="24.5" height="13.25" fill="#064E04"/>
<rect x="1493.75" y="605.75" width="24.5" height="13.25" fill="#064E04"/>
<rect x="1519.75" y="591" width="4.25" height="28" fill="#1C8004"/>
<rect x="1528" y="591" width="35" height="28" fill="#FF0010"/>
<rect x="1476" y="643" width="22.25" height="10" fill="#7C0008"/>
<rect x="1499.75" y="643" width="20.25" height="10" fill="#064E04"/>
<rect x="1523" y="642" width="22.25" height="1" fill="#8CEB78"/>
<rect x="1546.75" y="642" width="16.25" height="1" fill="#8CEB78"/>
<rect x="1476" y="677" width="44" height="5" fill="#064E04"/>
<rect x="1523" y="667" width="16.25" height="15" fill="#7C0008"/>
<rect x="1540.75" y="667" width="4.25" height="15" fill="#064E04"/>
<rect x="1548" y="667" width="15" height="5" fill="#7C0008"/></svg>
<div class="c k" style="left:19px;top:31px;width:157px;height:297px"><div style="position:relative;left:-10px;top:1.0px;font-size:25.00px;line-height:1.25"><span style="font-size:25.00px">ثفارس</span><span style="letter-spacing:0.03em">4.99%</span></div></div>
<div class="c" style="left:19px;top:329px;width:157px;height:112px"><div style="position:relative;left:-10px;top:2.5px;font-size:18.13px;line-height:1.25"><span style="font-size:18.13px">ثپرديس</span><span style="letter-spacing:0.03em">-6.81%</span></div></div>
<div class="c k" style="left:177px;top:31px;width:130px;height:125px"><div style="position:relative;left:-10px;top:2.5px;font-size:16.76px;line-height:1.25"><span style="font-size:16.76px">وساخت</span><span style="letter-spacing:0.03em">5.24%</span></div></div>
<div class="c k" style="left:308px;top:31px;width:125px;height:125px"><div style="position:relative;left:-10px;top:2.5px;font-size:16.13px;line-height:1.25"><span style="font-size:16.13px">ثنوسا</span><span style="letter-spacing:0.03em">4.96%</span></div></div>
<div class="c k" style="left:177px;top:157px;width:141px;height:88px"><div style="position:relative;left:-10px;top:2.5px;font-size:12.87px;line-height:1.25"><span style="font-size:12.87px">ثباغ</span><span style="letter-spacing:0.03em">6.99%</span></div></div>
<div class="c" style="left:319px;top:157px;width:114px;height:88px"><div style="position:relative;left:-10px;top:2.5px;font-size:10.44px;line-height:1.25"><span style="font-size:10.44px">ثشاهد</span><span style="letter-spacing:0.03em">-1.08%</span></div></div>
<div class="c" style="left:177px;top:246px;width:91px;height:102px"><div style="position:relative;left:-10px;top:2.5px;font-size:9.67px;line-height:1.25"><span style="font-size:9.67px">كرمان</span><span style="letter-spacing:0.03em">2.41%</span></div></div>
<div class="c" style="left:177px;top:349px;width:91px;height:92px"><div style="position:relative;left:-10px;top:2.5px;font-size:8.74px;line-height:1.25"><span style="font-size:8.74px">ثغرب</span><span style="letter-spacing:0.03em">2.33%</span></div></div>
<div class="c v" style="left:269px;top:246px;width:85px;height:60px"><div style="position:relative;left:-10px;top:0.5px;font-size:5.39px;line-height:1.25"><span style="font-size:5.39px">ثشرق</span><span style="letter-spacing:0.03em">-0.28%</span></div></div>
<div class="c v" style="left:355px;top:246px;width:78px;height:60px"><div style="position:relative;left:-10px;top:0.5px;font-size:4.96px;line-height:1.25"><span style="font-size:4.96px">ثمسار</span><span style="letter-spacing:0.03em">0.03%</span></div></div>
<div class="c v" style="left:269px;top:308px;width:51px;height:74px"><div style="position:relative;left:-10px;top:0.5px;font-size:4.03px;line-height:1.25"><span style="font-size:4.03px">ثاژن</span><span style="letter-spacing:0.03em">-0.72%</span></div></div>
<div class="c" style="left:269px;top:384px;width:51px;height:57px"><div dir="rtl" style="position:relative;left:-2.5px;font-size:11px;line-height:1.1">ثمسكن</div></div>
<div class="c" style="left:321px;top:308px;width:37px;height:52px"><div dir="rtl" style="position:relative;left:-2.5px;font-size:11px;line-height:1.1">ثامان</div></div>
<div class="c" style="left:359px;top:308px;width:37px;height:52px"><div dir="rtl" style="position:relative;left:-2.5px;font-size:11px;line-height:1.1">ثرود</div></div>
<div class="c" style="left:397px;top:308px;width:36px;height:52px"><div dir="rtl" style="position:relative;left:-2.5px;font-size:11px;line-height:1.1">...وتو</div></div>
<div class="c" style="left:321px;top:361px;width:47px;height:40px"><div dir="rtl" style="position:relative;left:-2.5px;font-size:11px;line-height:1.1">ثجنوب</div></div>
<div class="c" style="left:369px;top:361px;width:35px;height:47px"><div dir="rtl" style="position:relative;left:-2.5px;font-size:11px;line-height:1.1">...ثالو</div></div>
<div class="c" style="left:405px;top:361px;width:28px;height:47px"><div dir="rtl" style="position:relative;left:-2.5px;font-size:11px;line-height:1.1">...آ</div></div>
<div class="c" style="left:321px;top:402px;width:47px;height:39px"><div dir="rtl" style="position:relative;left:-2.5px;font-size:11px;line-height:1.1">ثاخت</div></div>
<div class="c" style="left:369px;top:409px;width:39px;height:32px"><div dir="rtl" style="position:relative;left:-2.5px;font-size:11px;line-height:1.1">ثعمرا</div></div>
<div class="c" style="left:409px;top:409px;width:24px;height:32px"><div dir="rtl" style="position:relative;left:-2.5px;font-size:11px;line-height:1.1">...ثا</div></div>
<div class="c" style="left:19px;top:464px;width:81px;height:126px"><div style="position:relative;left:-10px;top:2.5px;font-size:10.62px;line-height:1.25"><span style="font-size:10.62px">خودرو</span><span style="letter-spacing:0.03em">0.35%</span></div></div>
<div class="c k v" style="left:19px;top:591px;width:81px;height:91px"><div style="position:relative;left:-10px;top:0.5px;font-size:7.72px;line-height:1.25"><span style="font-size:7.72px">خچرخش</span><span style="letter-spacing:0.03em">6.97%</span></div></div>
<div class="c v" style="left:101px;top:464px;width:93px;height:79px"><div style="position:relative;left:-10px;top:0.5px;font-size:7.70px;line-height:1.25"><span style="font-size:7.70px">خگستر</span><span style="letter-spacing:0.03em">-1.07%</span></div></div>
<div class="c k v" style="left:101px;top:544px;width:93px;height:76px"><div style="position:relative;left:-10px;top:0.5px;font-size:7.41px;line-height:1.25"><span style="font-size:7.41px">خلنت</span><span style="letter-spacing:0.03em">6.98%</span></div></div>
<div class="c v" style="left:101px;top:621px;width:93px;height:61px"><div style="position:relative;left:-10px;top:0.5px;font-size:5.99px;line-height:1.25"><span style="font-size:5.99px">خساپا</span><span style="letter-spacing:0.03em">0.04%</span></div></div>
<div class="c v" style="left:195px;top:464px;width:71px;height:73px"><div style="position:relative;left:-10px;top:0.5px;font-size:5.47px;line-height:1.25"><span style="font-size:5.47px">خزاميا</span><span style="letter-spacing:0.03em">-2%</span></div></div>
<div class="c v" style="left:195px;top:538px;width:71px;height:72px"><div style="position:relative;left:-10px;top:0.5px;font-size:5.40px;line-height:1.25"><span style="font-size:5.40px">خاور</span><span style="letter-spacing:0.03em">-1.83%</span></div></div>
<div class="c v" style="left:195px;top:611px;width:71px;height:71px"><div style="position:relative;left:-10px;top:0.5px;font-size:5.33px;line-height:1.25"><span style="font-size:5.33px">ورنا</span><span style="letter-spacing:0.03em">-2.34%</span></div></div>
<div class="c v" style="left:267px;top:464px;width:71px;height:69px"><div style="position:relative;left:-10px;top:0.5px;font-size:5.18px;line-height:1.25"><span style="font-size:5.18px">خنصير</span><span style="letter-spacing:0.03em">-0.34%</span></div></div>
<div class="c" style="left:339px;top:464px;width:47px;height:69px"><div dir="rtl" style="position:relative;left:-2.5px;font-size:11px;line-height:1.1">خكرمان</div></div>
<div class="c" style="left:387px;top:464px;width:46px;height:69px"><div dir="rtl" style="position:relative;left:-2.5px;font-size:11px;line-height:1.1">خاذين</div></div>
<div class="c k" style="left:267px;top:534px;width:48px;height:53px"><div dir="rtl" style="position:relative;left:-2.5px;font-size:11px;line-height:1.1">خوساز</div></div>
<div class="c" style="left:267px;top:588px;width:48px;height:53px"><div dir="rtl" style="position:relative;left:-2.5px;font-size:11px;line-height:1.1">خبهمن</div></div>
<div class="c" style="left:267px;top:642px;width:48px;height:40px"><div dir="rtl" style="position:relative;left:-2.5px;font-size:11px;line-height:1.1">ختوقا</div></div>
<div class="c" style="left:316px;top:534px;width:41px;height:41px"><div dir="rtl" style="position:relative;left:-2.5px;font-size:11px;line-height:1.1">ختراك</div></div>
<div class="c" style="left:358px;top:534px;width:38px;height:41px"><div dir="rtl" style="position:relative;left:-2.5px;font-size:11px;line-height:1.1">خفنر</div></div>
<div class="c" style="left:397px;top:534px;width:36px;height:41px"><div dir="rtl" style="position:relative;left:-2.5px;font-size:11px;line-height:1.1">...خر</div></div>
<div class="c" style="left:316px;top:576px;width:35px;height:36px"><div dir="rtl" style="position:relative;left:-2.5px;font-size:11px;line-height:1.1">خمهر</div></div>
<div class="c" style="left:316px;top:613px;width:35px;height:35px"><div dir="rtl" style="position:relative;left:-2.5px;font-size:11px;line-height:1.1">...خم</div></div>
<div class="c k" style="left:316px;top:649px;width:35px;height:33px"><div dir="rtl" style="position:relative;left:-2.5px;font-size:11px;line-height:1.1">ناما</div></div>
<div class="c" style="left:352px;top:576px;width:40px;height:28px"><div dir="rtl" style="position:relative;left:-2.5px;font-size:11px;line-height:1.1">...خمح</div></div>
<div class="c" style="left:393px;top:576px;width:40px;height:28px"><div dir="rtl" style="position:relative;left:-2.5px;font-size:11px;line-height:1.1">خكمك</div></div>
<div class="c" style="left:352px;top:605px;width:35px;height:30px"><div dir="rtl" style="position:relative;left:-2.5px;font-size:11px;line-height:1.1">خزر</div></div>
<div class="c" style="left:352px;top:636px;width:35px;height:24px"><div dir="rtl" style="position:relative;left:-2.5px;font-size:11px;line-height:1.1">...خد</div></div>
<div class="c" style="left:352px;top:661px;width:35px;height:21px"><div dir="rtl" style="position:relative;left:-2.5px;font-size:11px;line-height:1.1">...خر</div></div>
<div class="c" style="left:388px;top:639px;width:31px;height:22px"><div dir="rtl" style="position:relative;left:-2.5px;font-size:11px;line-height:1.1">...خ</div></div>
<div class="c" style="left:436px;top:31px;width:120px;height:112px"><div style="position:relative;left:-10px;top:2.5px;font-size:13.91px;line-height:1.25"><span style="font-size:13.91px">فولاد</span><span style="letter-spacing:0.03em">0.16%</span></div></div>
<div class="c k" style="left:557px;top:31px;width:106px;height:112px"><div style="position:relative;left:-10px;top:2.5px;font-size:12.31px;line-height:1.25"><span style="font-size:12.31px">زنگان</span><span style="letter-spacing:0.03em">6.96%</span></div></div>
<div class="c" style="left:436px;top:145px;width:76px;height:129px"><div style="position:relative;left:-10px;top:2.5px;font-size:10.22px;line-height:1.25"><span style="font-size:10.22px">فملي</span><span style="letter-spacing:0.03em">0.82%</span></div></div>
<div class="c v" style="left:436px;top:275px;width:76px;height:87px"><div style="position:relative;left:-10px;top:0.5px;font-size:6.94px;line-height:1.25"><span style="font-size:6.94px">ذوب</span><span style="letter-spacing:0.03em">-2.09%</span></div></div>
<div class="c" style="left:514px;top:145px;width:55px;height:50px"><div dir="rtl" style="position:relative;left:-2.5px;font-size:11px;line-height:1.1">فخوز</div></div>
<div class="c" style="left:571px;top:145px;width:50px;height:50px"><div dir="rtl" style="position:relative;left:-2.5px;font-size:11px;line-height:1.1">هرمز</div></div>
<div class="c" style="left:622px;top:145px;width:41px;height:50px"><div dir="rtl" style="position:relative;left:-2.5px;font-size:11px;line-height:1.1">فلوله</div></div>
<div class="c" style="left:514px;top:197px;width:49px;height:37px"><div dir="rtl" style="position:relative;left:-2.5px;font-size:11px;line-height:1.1">فرود</div></div>
<div class="c" style="left:565px;top:197px;width:49px;height:37px"><div dir="rtl" style="position:relative;left:-2.5px;font-size:11px;line-height:1.1">فسبزوار</div></div>
<div class="c" style="left:616px;top:197px;width:47px;height:37px"><div dir="rtl" style="position:relative;left:-2.5px;font-size:11px;line-height:1.1">فروسيل</div></div>
<div class="c" style="left:514px;top:236px;width:39px;height:40px"><div dir="rtl" style="position:relative;left:-2.5px;font-size:11px;line-height:1.1">وتوكا</div></div>
<div class="c" style="left:514px;top:277px;width:39px;height:29px"><div dir="rtl" style="position:relative;left:-2.5px;font-size:11px;line-height:1.1">...فسا</div></div>
<div class="c" style="left:514px;top:308px;width:39px;height:28px"><div dir="rtl" style="position:relative;left:-2.5px;font-size:11px;line-height:1.1">فباهنر</div></div>
<div class="c" style="left:514px;top:337px;width:39px;height:25px"><div dir="rtl" style="position:relative;left:-2.5px;font-size:11px;line-height:1.1">فجر</div></div>
<div class="c" style="left:554px;top:296px;width:28px;height:23px"><div dir="rtl" style="position:relative;left:-2.5px;font-size:11px;line-height:1.1">...م</div></div>
<div class="c" style="left:583px;top:236px;width:28px;height:32px"><div dir="rtl" style="position:relative;left:-2.5px;font-size:11px;line-height:1.1">...ك</div></div>
<div class="c" style="left:612px;top:236px;width:25px;height:32px"><div dir="rtl" style="position:relative;left:-2.5px;font-size:11px;line-height:1.1">...ار</div></div>
<div class="c v" style="left:436px;top:386px;width:88px;height:77px"><div style="position:relative;left:-10px;top:0.5px;font-size:7.11px;line-height:1.25"><span style="font-size:7.11px">پارسان</span><span style="letter-spacing:0.03em">1.89%</span></div></div>
<div class="c k v" style="left:526px;top:386px;width:81px;height:77px"><div style="position:relative;left:-10px;top:0.5px;font-size:6.56px;line-height:1.25"><span style="font-size:6.56px">شفارس</span><span style="letter-spacing:0.03em">5.37%</span></div></div>
<div class="c v" style="left:608px;top:386px;width:55px;height:77px"><div style="position:relative;left:-10px;top:0.5px;font-size:4.50px;line-height:1.25"><span style="font-size:4.50px">شسپا</span><span style="letter-spacing:0.03em">-6.44%</span></div></div>
<div class="c v" style="left:436px;top:465px;width:53px;height:77px"><div style="position:relative;left:-10px;top:0.5px;font-size:4.34px;line-height:1.25"><span style="font-size:4.34px">شپترو</span><span style="letter-spacing:0.03em">-0.48%</span></div></div>
<div class="c v" style="left:436px;top:544px;width:53px;height:70px"><div style="position:relative;left:-10px;top:0.5px;font-size:3.96px;line-height:1.25"><span style="font-size:3.96px">شسينا</span><span style="letter-spacing:0.03em">-2.91%</span></div></div>
<div class="c" style="left:436px;top:616px;width:53px;height:66px"><div dir="rtl" style="position:relative;left:-2.5px;font-size:11px;line-height:1.1">شپديس</div></div>
<div class="c" style="left:490px;top:465px;width:58px;height:44px"><div dir="rtl" style="position:relative;left:-2.5px;font-size:11px;line-height:1.1">كرماشا</div></div>
<div class="c" style="left:550px;top:465px;width:56px;height:44px"><div dir="rtl" style="position:relative;left:-2.5px;font-size:11px;line-height:1.1">نوري</div></div>
<div class="c" style="left:608px;top:465px;width:55px;height:44px"><div dir="rtl" style="position:relative;left:-2.5px;font-size:11px;line-height:1.1">فارس</div></div>
<div class="c" style="left:490px;top:511px;width:43px;height:45px"><div dir="rtl" style="position:relative;left:-2.5px;font-size:11px;line-height:1.1">پترول</div></div>
<div class="c" style="left:490px;top:558px;width:43px;height:41px"><div dir="rtl" style="position:relative;left:-2.5px;font-size:11px;line-height:1.1">شگويا</div></div>
<div class="c" style="left:490px;top:601px;width:43px;height:41px"><div dir="rtl" style="position:relative;left:-2.5px;font-size:11px;line-height:1.1">بوعلي</div></div>
<div class="c" style="left:490px;top:644px;width:43px;height:38px"><div dir="rtl" style="position:relative;left:-2.5px;font-size:11px;line-height:1.1">شيران</div></div>
<div class="c" style="left:535px;top:511px;width:42px;height:32px"><div dir="rtl" style="position:relative;left:-2.5px;font-size:11px;line-height:1.1">شتوكا</div></div>
<div class="c k" style="left:579px;top:511px;width:41px;height:32px"><div dir="rtl" style="position:relative;left:-2.5px;font-size:11px;line-height:1.1">...شپا</div></div>
<div class="c" style="left:622px;top:511px;width:41px;height:32px"><div dir="rtl" style="position:relative;left:-2.5px;font-size:11px;line-height:1.1">پارس</div></div>
<div class="c" style="left:535px;top:545px;width:34px;height:35px"><div dir="rtl" style="position:relative;left:-2.5px;font-size:11px;line-height:1.1">...شو</div></div>
<div class="c" style="left:570px;top:545px;width:32px;height:35px"><div dir="rtl" style="position:relative;left:-2.5px;font-size:11px;line-height:1.1">...ش</div></div>
<div class="c" style="left:566px;top:582px;width:32px;height:24px"><div dir="rtl" style="position:relative;left:-2.5px;font-size:11px;line-height:1.1">...ش</div></div>
<div class="c" style="left:600px;top:582px;width:31px;height:24px"><div dir="rtl" style="position:relative;left:-2.5px;font-size:11px;line-height:1.1">...ش</div></div>
<div class="c" style="left:633px;top:582px;width:30px;height:24px"><div dir="rtl" style="position:relative;left:-2.5px;font-size:11px;line-height:1.1">...ش</div></div>
<div class="c" style="left:535px;top:617px;width:29px;height:33px"><div dir="rtl" style="position:relative;left:-2.5px;font-size:11px;line-height:1.1">...شا</div></div>
<div class="c" style="left:535px;top:652px;width:29px;height:30px"><div dir="rtl" style="position:relative;left:-2.5px;font-size:11px;line-height:1.1">...شا</div></div>
<div class="c" style="left:595px;top:608px;width:25px;height:24px"><div dir="rtl" style="position:relative;left:-2.5px;font-size:11px;line-height:1.1">...زا</div></div>
<div class="c" style="left:566px;top:634px;width:27px;height:24px"><div dir="rtl" style="position:relative;left:-2.5px;font-size:11px;line-height:1.1">...خ</div></div>
<div class="c" style="left:566px;top:660px;width:27px;height:22px"><div dir="rtl" style="position:relative;left:-2.5px;font-size:11px;line-height:1.1">كلر</div></div>
<div class="c k" style="left:667px;top:31px;width:196px;height:208px"><div style="position:relative;left:-10px;top:1.0px;font-size:25.00px;line-height:1.25"><span style="font-size:25.00px">نخريس</span><span style="letter-spacing:0.03em">5%</span></div></div>
<div class="c v" style="left:864px;top:31px;width:18px;height:196px"><div style="position:relative;left:-10px;top:0.5px;font-size:3.96px;line-height:1.25"><span style="font-size:3.96px">نمرينو</span><span style="letter-spacing:0.03em">0.32%</span></div></div>
<div class="c" style="left:667px;top:263px;width:82px;height:146px"><div style="position:relative;left:-10px;top:2.5px;font-size:12.43px;line-height:1.25"><span style="font-size:12.43px">داتام</span><span style="letter-spacing:0.03em">3.72%</span></div></div>
<div class="c k v" style="left:667px;top:411px;width:82px;height:51px"><div style="position:relative;left:-10px;top:0.5px;font-size:4.45px;line-height:1.25"><span style="font-size:4.45px">سرچشمه</span><span style="letter-spacing:0.03em">4.95%</span></div></div>
<div class="c" style="left:750px;top:263px;width:68px;height:46px"><div dir="rtl" style="position:relative;left:-2.5px;font-size:11px;line-height:1.1">وخارزم</div></div>
<div class="c" style="left:820px;top:263px;width:62px;height:46px"><div dir="rtl" style="position:relative;left:-2.5px;font-size:11px;line-height:1.1">وساپا</div></div>
<div class="c" style="left:750px;top:311px;width:48px;height:42px"><div dir="rtl" style="position:relative;left:-2.5px;font-size:11px;line-height:1.1">وآوا</div></div>
<div class="c" style="left:800px;top:311px;width:45px;height:42px"><div dir="rtl" style="position:relative;left:-2.5px;font-size:11px;line-height:1.1">وسپهر</div></div>
<div class="c" style="left:847px;top:311px;width:35px;height:42px"><div dir="rtl" style="position:relative;left:-2.5px;font-size:11px;line-height:1.1">شهر</div></div>
<div class="c" style="left:750px;top:355px;width:34px;height:37px"><div dir="rtl" style="position:relative;left:-2.5px;font-size:11px;line-height:1.1">...سد</div></div>
<div class="c" style="left:750px;top:394px;width:34px;height:35px"><div dir="rtl" style="position:relative;left:-2.5px;font-size:11px;line-height:1.1">صبا</div></div>
<div class="c" style="left:750px;top:431px;width:34px;height:31px"><div dir="rtl" style="position:relative;left:-2.5px;font-size:11px;line-height:1.1">واتي</div></div>
<div class="c" style="left:786px;top:355px;width:32px;height:30px"><div dir="rtl" style="position:relative;left:-2.5px;font-size:11px;line-height:1.1">...وتو</div></div>
<div class="c" style="left:820px;top:355px;width:30px;height:30px"><div dir="rtl" style="position:relative;left:-2.5px;font-size:11px;line-height:1.1">...وا</div></div>
<div class="c" style="left:852px;top:355px;width:30px;height:30px"><div dir="rtl" style="position:relative;left:-2.5px;font-size:11px;line-height:1.1">...و</div></div>
<div class="c" style="left:786px;top:387px;width:32px;height:25px"><div dir="rtl" style="position:relative;left:-2.5px;font-size:11px;line-height:1.1">...مد</div></div>
<div class="c" style="left:820px;top:387px;width:22px;height:25px"><div dir="rtl" style="position:relative;left:-2.5px;font-size:11px;line-height:1.1">...و</div></div>
<div class="c" style="left:786px;top:414px;width:32px;height:23px"><div dir="rtl" style="position:relative;left:-2.5px;font-size:11px;line-height:1.1">...وم</div></div>
<div class="c" style="left:786px;top:439px;width:32px;height:23px"><div dir="rtl" style="position:relative;left:-2.5px;font-size:11px;line-height:1.1">...پرد</div></div>
<div class="c" style="left:667px;top:486px;width:97px;height:196px"><div style="position:relative;left:-10px;top:2.5px;font-size:19.60px;line-height:1.25"><span style="font-size:19.60px">كروميت</span><span style="letter-spacing:0.03em">0%</span></div></div>
<div class="c v" style="left:766px;top:486px;width:73px;height:79px"><div style="position:relative;left:-10px;top:0.5px;font-size:6.08px;line-height:1.25"><span style="font-size:6.08px">فزر</span><span style="letter-spacing:0.03em">1.51%</span></div></div>
<div class="c" style="left:841px;top:486px;width:41px;height:79px"><div dir="rtl" style="position:relative;left:-2.5px;font-size:11px;line-height:1.1">...ومعا</div></div>
<div class="c" style="left:766px;top:567px;width:51px;height:58px"><div dir="rtl" style="position:relative;left:-2.5px;font-size:11px;line-height:1.1">تاصيكو</div></div>
<div class="c k" style="left:766px;top:627px;width:51px;height:55px"><div dir="rtl" style="position:relative;left:-2.5px;font-size:11px;line-height:1.1">كدما</div></div>
<div class="c" style="left:819px;top:567px;width:63px;height:38px"><div dir="rtl" style="position:relative;left:-2.5px;font-size:11px;line-height:1.1">كگل</div></div>
<div class="c" style="left:819px;top:607px;width:63px;height:36px"><div dir="rtl" style="position:relative;left:-2.5px;font-size:11px;line-height:1.1">كاما</div></div>
<div class="c" style="left:819px;top:645px;width:27px;height:21px"><div dir="rtl" style="position:relative;left:-2.5px;font-size:11px;line-height:1.1">...ك</div></div>
<div class="c k" style="left:885px;top:31px;width:103px;height:95px"><div style="position:relative;left:-10px;top:2.5px;font-size:10.19px;line-height:1.25"><span style="font-size:10.19px">وبصادر</span><span style="letter-spacing:0.03em">4.12%</span></div></div>
<div class="c v" style="left:885px;top:128px;width:103px;height:69px"><div style="position:relative;left:-10px;top:0.5px;font-size:7.46px;line-height:1.25"><span style="font-size:7.46px">وتجارت</span><span style="letter-spacing:0.03em">0.09%</span></div></div>
<div class="c v" style="left:990px;top:31px;width:63px;height:69px"><div style="position:relative;left:-10px;top:0.5px;font-size:4.62px;line-height:1.25"><span style="font-size:4.62px">سامان</span><span style="letter-spacing:0.03em">-0.47%</span></div></div>
<div class="c" style="left:1055px;top:31px;width:35px;height:69px"><div dir="rtl" style="position:relative;left:-2.5px;font-size:11px;line-height:1.1">وخاور</div></div>
<div class="c" style="left:990px;top:102px;width:46px;height:50px"><div dir="rtl" style="position:relative;left:-2.5px;font-size:11px;line-height:1.1">وپارس</div></div>
<div class="c" style="left:990px;top:154px;width:46px;height:43px"><div dir="rtl" style="position:relative;left:-2.5px;font-size:11px;line-height:1.1">ونوين</div></div>
<div class="c" style="left:1038px;top:102px;width:26px;height:50px"><div dir="rtl" style="position:relative;left:-2.5px;font-size:11px;line-height:1.1">...و</div></div>
<div class="c" style="left:1066px;top:102px;width:24px;height:50px"><div dir="rtl" style="position:relative;left:-2.5px;font-size:11px;line-height:1.1">...و</div></div>
<div class="c" style="left:1038px;top:154px;width:33px;height:23px"><div dir="rtl" style="position:relative;left:-2.5px;font-size:11px;line-height:1.1">وملل</div></div>
<div class="c" style="left:885px;top:221px;width:111px;height:72px"><div style="position:relative;left:-10px;top:2.5px;font-size:8.36px;line-height:1.25"><span style="font-size:8.36px">شبندر</span><span style="letter-spacing:0.03em">2.96%</span></div></div>
<div class="c v" style="left:998px;top:221px;width:92px;height:72px"><div style="position:relative;left:-10px;top:0.5px;font-size:6.96px;line-height:1.25"><span style="font-size:6.96px">شپنا</span><span style="letter-spacing:0.03em">0.48%</span></div></div>
<div class="c v" style="left:885px;top:295px;width:111px;height:67px"><div style="position:relative;left:-10px;top:0.5px;font-size:7.80px;line-height:1.25"><span style="font-size:7.80px">شتران</span><span style="letter-spacing:0.03em">0.37%</span></div></div>
<div class="c" style="left:998px;top:295px;width:31px;height:67px"><div dir="rtl" style="position:relative;left:-2.5px;font-size:11px;line-height:1.1">...ش</div></div>
<div class="c" style="left:1031px;top:295px;width:31px;height:29px"><div dir="rtl" style="position:relative;left:-2.5px;font-size:11px;line-height:1.1">...شا</div></div>
<div class="c k" style="left:885px;top:386px;width:88px;height:138px"><div style="position:relative;left:-10px;top:2.5px;font-size:12.60px;line-height:1.25"><span style="font-size:12.60px">زماهان</span><span style="letter-spacing:0.03em">6.98%</span></div></div>
<div class="c v" style="left:975px;top:386px;width:115px;height:60px"><div style="position:relative;left:-10px;top:0.5px;font-size:7.25px;line-height:1.25"><span style="font-size:7.25px">زپارس</span><span style="letter-spacing:0.03em">0.63%</span></div></div>
<div class="c" style="left:975px;top:448px;width:25px;height:40px"><div dir="rtl" style="position:relative;left:-2.5px;font-size:11px;line-height:1.1">...ز</div></div>
<div class="c" style="left:975px;top:490px;width:25px;height:34px"><div dir="rtl" style="position:relative;left:-2.5px;font-size:11px;line-height:1.1">...ز</div></div>
<div class="c" style="left:1002px;top:448px;width:30px;height:27px"><div dir="rtl" style="position:relative;left:-2.5px;font-size:11px;line-height:1.1">...س</div></div>
<div class="c k" style="left:1002px;top:477px;width:30px;height:24px"><div dir="rtl" style="position:relative;left:-2.5px;font-size:11px;line-height:1.1">...زد</div></div>
<div class="c" style="left:1002px;top:503px;width:30px;height:21px"><div dir="rtl" style="position:relative;left:-2.5px;font-size:11px;line-height:1.1">...زق</div></div>
<div class="c" style="left:1034px;top:448px;width:28px;height:22px"><div dir="rtl" style="position:relative;left:-2.5px;font-size:11px;line-height:1.1">...تل</div></div>
<div class="c" style="left:1064px;top:448px;width:26px;height:22px"><div dir="rtl" style="position:relative;left:-2.5px;font-size:11px;line-height:1.1">...ز</div></div>
<div class="c k v" style="left:885px;top:548px;width:64px;height:61px"><div style="position:relative;left:-10px;top:0.5px;font-size:4.16px;line-height:1.25"><span style="font-size:4.16px">درازك</span><span style="letter-spacing:0.03em">5.98%</span></div></div>
<div class="c" style="left:885px;top:611px;width:64px;height:35px"><div dir="rtl" style="position:relative;left:-2.5px;font-size:11px;line-height:1.1">دتوليد</div></div>
<div class="c k" style="left:885px;top:648px;width:64px;height:34px"><div dir="rtl" style="position:relative;left:-2.5px;font-size:11px;line-height:1.1">داوه</div></div>
<div class="c" style="left:951px;top:548px;width:34px;height:44px"><div dir="rtl" style="position:relative;left:-2.5px;font-size:11px;line-height:1.1">دروز</div></div>
<div class="c" style="left:951px;top:594px;width:34px;height:32px"><div dir="rtl" style="position:relative;left:-2.5px;font-size:11px;line-height:1.1">...دام</div></div>
<div class="c" style="left:951px;top:628px;width:34px;height:28px"><div dir="rtl" style="position:relative;left:-2.5px;font-size:11px;line-height:1.1">بركت</div></div>
<div class="c" style="left:951px;top:658px;width:34px;height:24px"><div dir="rtl" style="position:relative;left:-2.5px;font-size:11px;line-height:1.1">...كي</div></div>
<div class="c" style="left:987px;top:548px;width:25px;height:28px"><div dir="rtl" style="position:relative;left:-2.5px;font-size:11px;line-height:1.1">...دا</div></div>
<div class="c" style="left:1014px;top:548px;width:24px;height:28px"><div dir="rtl" style="position:relative;left:-2.5px;font-size:11px;line-height:1.1">...د</div></div>
<div class="c" style="left:1040px;top:548px;width:25px;height:28px"><div dir="rtl" style="position:relative;left:-2.5px;font-size:11px;line-height:1.1">...د</div></div>
<div class="c" style="left:1067px;top:548px;width:23px;height:28px"><div dir="rtl" style="position:relative;left:-2.5px;font-size:11px;line-height:1.1">دلر</div></div>
<div class="c" style="left:1015px;top:578px;width:25px;height:25px"><div dir="rtl" style="position:relative;left:-2.5px;font-size:11px;line-height:1.1">...د</div></div>
<div class="c" style="left:1042px;top:578px;width:23px;height:25px"><div dir="rtl" style="position:relative;left:-2.5px;font-size:11px;line-height:1.1">...د</div></div>
<div class="c" style="left:1067px;top:578px;width:23px;height:25px"><div dir="rtl" style="position:relative;left:-2.5px;font-size:11px;line-height:1.1">...د</div></div>
<div class="c v" style="left:1094px;top:31px;width:94px;height:56px"><div style="position:relative;left:-10px;top:0.5px;font-size:5.57px;line-height:1.25"><span style="font-size:5.57px">سيلام</span><span style="letter-spacing:0.03em">-6.99%</span></div></div>
<div class="c v" style="left:1190px;top:31px;width:64px;height:56px"><div style="position:relative;left:-10px;top:0.5px;font-size:3.83px;line-height:1.25"><span style="font-size:3.83px">سصفها</span><span style="letter-spacing:0.03em">-1.92%</span></div></div>
<div class="c" style="left:1094px;top:89px;width:40px;height:37px"><div dir="rtl" style="position:relative;left:-2.5px;font-size:11px;line-height:1.1">سبزوا</div></div>
<div class="c" style="left:1094px;top:128px;width:40px;height:35px"><div dir="rtl" style="position:relative;left:-2.5px;font-size:11px;line-height:1.1">...سفار</div></div>
<div class="c" style="left:1094px;top:165px;width:40px;height:28px"><div dir="rtl" style="position:relative;left:-2.5px;font-size:11px;line-height:1.1">ستران</div></div>
<div class="c" style="left:1165px;top:89px;width:29px;height:21px"><div dir="rtl" style="position:relative;left:-2.5px;font-size:11px;line-height:1.1">...سا</div></div>
<div class="c" style="left:1257px;top:31px;width:70px;height:39px"><div dir="rtl" style="position:relative;left:-2.5px;font-size:11px;line-height:1.1">عاليس</div></div>
<div class="c" style="left:1329px;top:31px;width:48px;height:39px"><div dir="rtl" style="position:relative;left:-2.5px;font-size:11px;line-height:1.1">غنوش</div></div>
<div class="c" style="left:1379px;top:31px;width:33px;height:39px"><div dir="rtl" style="position:relative;left:-2.5px;font-size:11px;line-height:1.1">غدام</div></div>
<div class="c" style="left:1257px;top:72px;width:36px;height:31px"><div dir="rtl" style="position:relative;left:-2.5px;font-size:11px;line-height:1.1">غچين</div></div>
<div class="c" style="left:1257px;top:105px;width:36px;height:29px"><div dir="rtl" style="position:relative;left:-2.5px;font-size:11px;line-height:1.1">...غب</div></div>
<div class="c" style="left:1257px;top:136px;width:36px;height:29px"><div dir="rtl" style="position:relative;left:-2.5px;font-size:11px;line-height:1.1">غگل</div></div>
<div class="c" style="left:1257px;top:167px;width:36px;height:26px"><div dir="rtl" style="position:relative;left:-2.5px;font-size:11px;line-height:1.1">غويتا</div></div>
<div class="c" style="left:1295px;top:72px;width:30px;height:27px"><div dir="rtl" style="position:relative;left:-2.5px;font-size:11px;line-height:1.1">...غ</div></div>
<div class="c" style="left:1327px;top:72px;width:28px;height:27px"><div dir="rtl" style="position:relative;left:-2.5px;font-size:11px;line-height:1.1">غاذر</div></div>
<div class="c" style="left:1357px;top:72px;width:27px;height:27px"><div dir="rtl" style="position:relative;left:-2.5px;font-size:11px;line-height:1.1">...غ</div></div>
<div class="c" style="left:1386px;top:72px;width:26px;height:27px"><div dir="rtl" style="position:relative;left:-2.5px;font-size:11px;line-height:1.1">...غ</div></div>
<div class="c" style="left:1295px;top:101px;width:23px;height:31px"><div dir="rtl" style="position:relative;left:-2.5px;font-size:11px;line-height:1.1">...غ</div></div>
<div class="c" style="left:1295px;top:134px;width:23px;height:29px"><div dir="rtl" style="position:relative;left:-2.5px;font-size:11px;line-height:1.1">...غ</div></div>
<div class="c" style="left:1295px;top:165px;width:23px;height:28px"><div dir="rtl" style="position:relative;left:-2.5px;font-size:11px;line-height:1.1">...غ</div></div>
<div class="c" style="left:1320px;top:101px;width:23px;height:27px"><div dir="rtl" style="position:relative;left:-2.5px;font-size:11px;line-height:1.1">...غ</div></div>
<div class="c" style="left:1345px;top:101px;width:22px;height:27px"><div dir="rtl" style="position:relative;left:-2.5px;font-size:11px;line-height:1.1">...غ</div></div>
<div class="c" style="left:1350px;top:130px;width:21px;height:22px"><div dir="rtl" style="position:relative;left:-2.5px;font-size:11px;line-height:1.1">...غ</div></div>
<div class="c" style="left:1416px;top:31px;width:147px;height:72px"><div style="position:relative;left:-10px;top:2.5px;font-size:11.03px;line-height:1.25"><span style="font-size:11.03px">حآفرين</span><span style="letter-spacing:0.03em">3.2%</span></div></div>
<div class="c v" style="left:1416px;top:105px;width:75px;height:49px"><div style="position:relative;left:-10px;top:0.5px;font-size:3.93px;line-height:1.25"><span style="font-size:3.93px">حكشتي</span><span style="letter-spacing:0.03em">-0.99%</span></div></div>
<div class="c" style="left:1416px;top:156px;width:75px;height:37px"><div dir="rtl" style="position:relative;left:-2.5px;font-size:11px;line-height:1.1">حفارس</div></div>
<div class="c" style="left:1493px;top:105px;width:44px;height:35px"><div dir="rtl" style="position:relative;left:-2.5px;font-size:11px;line-height:1.1">حآسا</div></div>
<div class="c" style="left:1493px;top:142px;width:26px;height:29px"><div dir="rtl" style="position:relative;left:-2.5px;font-size:11px;line-height:1.1">...ح</div></div>
<div class="c k v" style="left:1094px;top:217px;width:53px;height:102px"><div style="position:relative;left:-10px;top:0.5px;font-size:5.72px;line-height:1.25"><span style="font-size:5.72px">كپشير</span><span style="letter-spacing:0.03em">6.92%</span></div></div>
<div class="c" style="left:1148px;top:217px;width:50px;height:60px"><div dir="rtl" style="position:relative;left:-2.5px;font-size:11px;line-height:1.1">كسرام</div></div>
<div class="c" style="left:1148px;top:279px;width:50px;height:40px"><div dir="rtl" style="position:relative;left:-2.5px;font-size:11px;line-height:1.1">كمرجان</div></div>
<div class="c" style="left:1200px;top:217px;width:41px;height:39px"><div dir="rtl" style="position:relative;left:-2.5px;font-size:11px;line-height:1.1">كتوكا</div></div>
<div class="c k" style="left:1243px;top:217px;width:33px;height:39px"><div dir="rtl" style="position:relative;left:-2.5px;font-size:11px;line-height:1.1">كخاك</div></div>
<div class="c" style="left:1200px;top:258px;width:29px;height:37px"><div dir="rtl" style="position:relative;left:-2.5px;font-size:11px;line-height:1.1">كسرا</div></div>
<div class="c" style="left:1200px;top:297px;width:29px;height:22px"><div dir="rtl" style="position:relative;left:-2.5px;font-size:11px;line-height:1.1">...ك</div></div>
<div class="c v" style="left:1280px;top:217px;width:62px;height:102px"><div style="position:relative;left:-10px;top:0.5px;font-size:6.66px;line-height:1.25"><span style="font-size:6.66px">شستا</span><span style="letter-spacing:0.03em">0.08%</span></div></div>
<div class="c v" style="left:1343px;top:217px;width:79px;height:42px"><div style="position:relative;left:-10px;top:0.5px;font-size:3.56px;line-height:1.25"><span style="font-size:3.56px">وصنعت</span><span style="letter-spacing:0.03em">0.04%</span></div></div>
<div class="c" style="left:1343px;top:261px;width:53px;height:29px"><div dir="rtl" style="position:relative;left:-2.5px;font-size:11px;line-height:1.1">واميد</div></div>
<div class="c" style="left:1343px;top:292px;width:53px;height:27px"><div dir="rtl" style="position:relative;left:-2.5px;font-size:11px;line-height:1.1">وكغدير</div></div>
<div class="c" style="left:1398px;top:261px;width:24px;height:27px"><div dir="rtl" style="position:relative;left:-2.5px;font-size:11px;line-height:1.1">...و</div></div>
<div class="c k v" style="left:1425px;top:217px;width:63px;height:67px"><div style="position:relative;left:-10px;top:0.5px;font-size:4.49px;line-height:1.25"><span style="font-size:4.49px">پي‌پاد</span><span style="letter-spacing:0.03em">4.82%</span></div></div>
<div class="c" style="left:1425px;top:286px;width:63px;height:33px"><div dir="rtl" style="position:relative;left:-2.5px;font-size:11px;line-height:1.1">افرا</div></div>
<div class="c" style="left:1490px;top:217px;width:40px;height:38px"><div dir="rtl" style="position:relative;left:-2.5px;font-size:11px;line-height:1.1">مفاخر</div></div>
<div class="c" style="left:1532px;top:217px;width:31px;height:38px"><div dir="rtl" style="position:relative;left:-2.5px;font-size:11px;line-height:1.1">...تو</div></div>
<div class="c" style="left:1516px;top:257px;width:26px;height:24px"><div dir="rtl" style="position:relative;left:-2.5px;font-size:11px;line-height:1.1">...تا</div></div>
<div class="c" style="left:1094px;top:343px;width:50px;height:40px"><div dir="rtl" style="position:relative;left:-2.5px;font-size:11px;line-height:1.1">ودي</div></div>
<div class="c" style="left:1094px;top:385px;width:50px;height:37px"><div dir="rtl" style="position:relative;left:-2.5px;font-size:11px;line-height:1.1">دانا</div></div>
<div class="c k" style="left:1094px;top:424px;width:50px;height:33px"><div dir="rtl" style="position:relative;left:-2.5px;font-size:11px;line-height:1.1">بنو</div></div>
<div class="c" style="left:1146px;top:343px;width:39px;height:34px"><div dir="rtl" style="position:relative;left:-2.5px;font-size:11px;line-height:1.1">كوثر</div></div>
<div class="c" style="left:1187px;top:343px;width:32px;height:34px"><div dir="rtl" style="position:relative;left:-2.5px;font-size:11px;line-height:1.1">بپاس</div></div>
<div class="c" style="left:1146px;top:379px;width:42px;height:26px"><div dir="rtl" style="position:relative;left:-2.5px;font-size:11px;line-height:1.1">ميهن</div></div>
<div class="c" style="left:1190px;top:379px;width:29px;height:26px"><div dir="rtl" style="position:relative;left:-2.5px;font-size:11px;line-height:1.1">ملت</div></div>
<div class="c v" style="left:1223px;top:343px;width:43px;height:81px"><div style="position:relative;left:-10px;top:0.5px;font-size:3.73px;line-height:1.25"><span style="font-size:3.73px">بكهنوج</span><span style="letter-spacing:0.03em">-4.43%</span></div></div>
<div class="c" style="left:1268px;top:343px;width:40px;height:41px"><div dir="rtl" style="position:relative;left:-2.5px;font-size:11px;line-height:1.1">...بزاگر</div></div>
<div class="c" style="left:1310px;top:343px;width:31px;height:41px"><div dir="rtl" style="position:relative;left:-2.5px;font-size:11px;line-height:1.1">...بج</div></div>
<div class="c" style="left:1344px;top:343px;width:59px;height:48px"><div dir="rtl" style="position:relative;left:-2.5px;font-size:11px;line-height:1.1">بكاب</div></div>
<div class="c" style="left:1344px;top:393px;width:59px;height:31px"><div dir="rtl" style="position:relative;left:-2.5px;font-size:11px;line-height:1.1">بترانس</div></div>
<div class="c" style="left:1405px;top:343px;width:48px;height:27px"><div dir="rtl" style="position:relative;left:-2.5px;font-size:11px;line-height:1.1">بالبر</div></div>
<div class="c" style="left:1457px;top:343px;width:54px;height:46px"><div dir="rtl" style="position:relative;left:-2.5px;font-size:11px;line-height:1.1">فرابورس</div></div>
<div class="c" style="left:1457px;top:391px;width:54px;height:33px"><div dir="rtl" style="position:relative;left:-2.5px;font-size:11px;line-height:1.1">انرژي</div></div>
<div class="c" style="left:1513px;top:343px;width:50px;height:31px"><div dir="rtl" style="position:relative;left:-2.5px;font-size:11px;line-height:1.1">كالا</div></div>
<div class="c" style="left:1513px;top:376px;width:26px;height:48px"><div dir="rtl" style="position:relative;left:-2.5px;font-size:11px;line-height:1.1">...بو</div></div>
<div class="c" style="left:1541px;top:376px;width:22px;height:24px"><div dir="rtl" style="position:relative;left:-2.5px;font-size:11px;line-height:1.1">...ا</div></div>
<div class="c v" style="left:1223px;top:448px;width:72px;height:65px"><div style="position:relative;left:-10px;top:0.5px;font-size:4.96px;line-height:1.25"><span style="font-size:4.96px">گكوثر</span><span style="letter-spacing:0.03em">1.25%</span></div></div>
<div class="c" style="left:1297px;top:448px;width:44px;height:38px"><div dir="rtl" style="position:relative;left:-2.5px;font-size:11px;line-height:1.1">گدنا</div></div>
<div class="c" style="left:1344px;top:448px;width:42px;height:51px"><div dir="rtl" style="position:relative;left:-2.5px;font-size:11px;line-height:1.1">...هاي</div></div>
<div class="c" style="left:1388px;top:448px;width:30px;height:51px"><div dir="rtl" style="position:relative;left:-2.5px;font-size:11px;line-height:1.1">...ا</div></div>
<div class="c" style="left:1420px;top:448px;width:35px;height:38px"><div dir="rtl" style="position:relative;left:-2.5px;font-size:11px;line-height:1.1">اوان</div></div>
<div class="c v" style="left:1459px;top:448px;width:78px;height:51px"><div style="position:relative;left:-10px;top:0.5px;font-size:4.24px;line-height:1.25"><span style="font-size:4.24px">اخابر</span><span style="letter-spacing:0.03em">-1.82%</span></div></div>
<div class="c" style="left:1539px;top:448px;width:24px;height:51px"><div dir="rtl" style="position:relative;left:-2.5px;font-size:11px;line-height:1.1">...ه</div></div>
<div class="c" style="left:1094px;top:480px;width:125px;height:93px"><div style="position:relative;left:-10px;top:2.5px;font-size:12.06px;line-height:1.25"><span style="font-size:12.06px">لپارس</span><span style="letter-spacing:0.03em">-4.3%</span></div></div>
<div class="c k v" style="left:1094px;top:597px;width:57px;height:85px"><div style="position:relative;left:-10px;top:0.5px;font-size:5.13px;line-height:1.25"><span style="font-size:5.13px">فجام</span><span style="letter-spacing:0.03em">4.96%</span></div></div>
<div class="c" style="left:1153px;top:597px;width:66px;height:33px"><div dir="rtl" style="position:relative;left:-2.5px;font-size:11px;line-height:1.1">فاراك</div></div>
<div class="c" style="left:1153px;top:632px;width:32px;height:50px"><div dir="rtl" style="position:relative;left:-2.5px;font-size:11px;line-height:1.1">فاذر</div></div>
<div class="c" style="left:1187px;top:632px;width:32px;height:30px"><div dir="rtl" style="position:relative;left:-2.5px;font-size:11px;line-height:1.1">چدن</div></div>
<div class="c" style="left:1223px;top:537px;width:44px;height:37px"><div dir="rtl" style="position:relative;left:-2.5px;font-size:11px;line-height:1.1">تكمبا</div></div>
<div class="c k" style="left:1223px;top:576px;width:44px;height:25px"><div dir="rtl" style="position:relative;left:-2.5px;font-size:11px;line-height:1.1">لبوتان</div></div>
<div class="c" style="left:1269px;top:537px;width:28px;height:37px"><div dir="rtl" style="position:relative;left:-2.5px;font-size:11px;line-height:1.1">...ان</div></div>
<div class="c" style="left:1269px;top:576px;width:28px;height:25px"><div dir="rtl" style="position:relative;left:-2.5px;font-size:11px;line-height:1.1">...لا</div></div>
<div class="c" style="left:1223px;top:624px;width:43px;height:30px"><div dir="rtl" style="position:relative;left:-2.5px;font-size:11px;line-height:1.1">ولملت</div></div>
<div class="c" style="left:1223px;top:656px;width:43px;height:26px"><div dir="rtl" style="position:relative;left:-2.5px;font-size:11px;line-height:1.1">ولشرق</div></div>
<div class="c" style="left:1268px;top:624px;width:28px;height:32px"><div dir="rtl" style="position:relative;left:-2.5px;font-size:11px;line-height:1.1">...و</div></div>
<div class="c" style="left:1268px;top:658px;width:28px;height:24px"><div dir="rtl" style="position:relative;left:-2.5px;font-size:11px;line-height:1.1">...و</div></div>
<div class="c v" style="left:1344px;top:523px;width:68px;height:48px"><div style="position:relative;left:-10px;top:0.5px;font-size:3.50px;line-height:1.25"><span style="font-size:3.50px">ساينا</span><span style="letter-spacing:0.03em">2.37%</span></div></div>
<div class="c" style="left:1344px;top:573px;width:68px;height:22px"><div dir="rtl" style="position:relative;left:-2.5px;font-size:11px;line-height:1.1">نيان</div></div>
<div class="c" style="left:1415px;top:523px;width:26px;height:21px"><div dir="rtl" style="position:relative;left:-2.5px;font-size:11px;line-height:1.1">...پد</div></div>
<div class="c v" style="left:1498px;top:523px;width:58px;height:44px"><div style="position:relative;left:-10px;top:0.5px;font-size:2.76px;line-height:1.25"><span style="font-size:2.76px">كطبس</span><span style="letter-spacing:0.03em">-4.6%</span></div></div>
<div class="c" style="left:1344px;top:619px;width:26px;height:35px"><div dir="rtl" style="position:relative;left:-2.5px;font-size:11px;line-height:1.1">...ق</div></div>
<div class="c" style="left:1344px;top:656px;width:26px;height:26px"><div dir="rtl" style="position:relative;left:-2.5px;font-size:11px;line-height:1.1">...ق</div></div>
<div class="c" style="left:1415px;top:591px;width:28px;height:36px"><div dir="rtl" style="position:relative;left:-2.5px;font-size:11px;line-height:1.1">...ك</div></div>
<div class="c" style="left:1528px;top:591px;width:35px;height:28px"><div dir="rtl" style="position:relative;left:-2.5px;font-size:11px;line-height:1.1">بالاس</div></div>
<div style="position:absolute;left:18px;top:684px;width:1547px;height:1px;background:#e4e4e4"></div>
</body></html>
